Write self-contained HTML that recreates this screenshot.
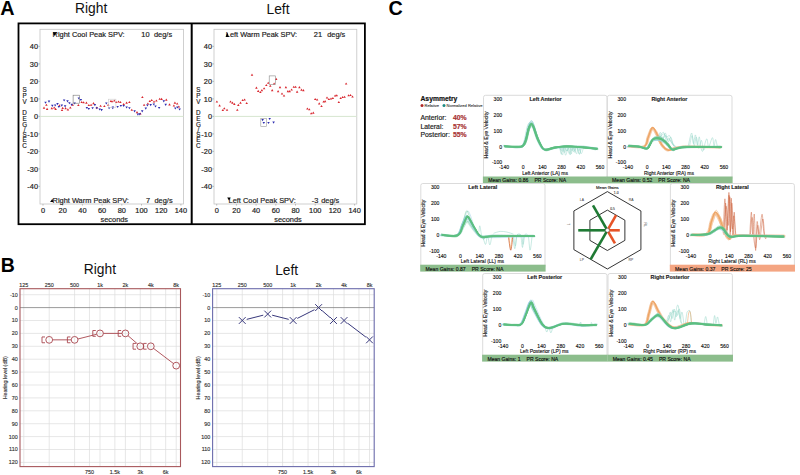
<!DOCTYPE html>
<html><head><meta charset="utf-8"><style>
html,body{margin:0;padding:0;background:#fff;width:800px;height:475px;overflow:hidden}
svg{display:block;font-family:"Liberation Sans", sans-serif}
</style></head><body>
<svg width="800" height="475" viewBox="0 0 800 475">
<rect width="800" height="475" fill="#fff"/>
<text x="0.30" y="14.60" font-size="19.8" text-anchor="start" font-weight="bold" fill="#000" stroke="#000" stroke-width="0" >A</text>
<text x="75.00" y="13.20" font-size="13.8" text-anchor="start" font-weight="normal" fill="#111" stroke="#111" stroke-width="0" >Right</text>
<text x="266.50" y="13.50" font-size="13.8" text-anchor="start" font-weight="normal" fill="#111" stroke="#111" stroke-width="0" >Left</text>
<rect x="18.50" y="23.40" width="346.40" height="200.80" fill="none" stroke="#000" stroke-width="1.8" />
<line x1="191.70" y1="23.40" x2="191.70" y2="224.20" stroke="#000" stroke-width="2" />
<rect x="40.00" y="29.30" width="143.50" height="174.70" fill="none" stroke="#c4c4c4" stroke-width="0.8" />
<line x1="40.00" y1="116.40" x2="183.50" y2="116.40" stroke="#d6e6cf" stroke-width="1.0" />
<line x1="38.40" y1="46.40" x2="40.00" y2="46.40" stroke="#999" stroke-width="0.6" />
<text x="38.00" y="49.05" font-size="7.4" text-anchor="end" font-weight="normal" fill="#222" stroke="#222" stroke-width="0.185" >40</text>
<line x1="38.40" y1="63.90" x2="40.00" y2="63.90" stroke="#999" stroke-width="0.6" />
<text x="38.00" y="66.55" font-size="7.4" text-anchor="end" font-weight="normal" fill="#222" stroke="#222" stroke-width="0.185" >30</text>
<line x1="38.40" y1="81.40" x2="40.00" y2="81.40" stroke="#999" stroke-width="0.6" />
<text x="38.00" y="84.05" font-size="7.4" text-anchor="end" font-weight="normal" fill="#222" stroke="#222" stroke-width="0.185" >20</text>
<line x1="38.40" y1="98.90" x2="40.00" y2="98.90" stroke="#999" stroke-width="0.6" />
<text x="38.00" y="101.55" font-size="7.4" text-anchor="end" font-weight="normal" fill="#222" stroke="#222" stroke-width="0.185" >10</text>
<line x1="38.40" y1="116.40" x2="40.00" y2="116.40" stroke="#999" stroke-width="0.6" />
<text x="38.00" y="119.05" font-size="7.4" text-anchor="end" font-weight="normal" fill="#222" stroke="#222" stroke-width="0.185" >0</text>
<line x1="38.40" y1="133.90" x2="40.00" y2="133.90" stroke="#999" stroke-width="0.6" />
<text x="38.00" y="136.55" font-size="7.4" text-anchor="end" font-weight="normal" fill="#222" stroke="#222" stroke-width="0.185" >-10</text>
<line x1="38.40" y1="151.40" x2="40.00" y2="151.40" stroke="#999" stroke-width="0.6" />
<text x="38.00" y="154.05" font-size="7.4" text-anchor="end" font-weight="normal" fill="#222" stroke="#222" stroke-width="0.185" >-20</text>
<line x1="38.40" y1="168.90" x2="40.00" y2="168.90" stroke="#999" stroke-width="0.6" />
<text x="38.00" y="171.55" font-size="7.4" text-anchor="end" font-weight="normal" fill="#222" stroke="#222" stroke-width="0.185" >-30</text>
<line x1="38.40" y1="186.40" x2="40.00" y2="186.40" stroke="#999" stroke-width="0.6" />
<text x="38.00" y="189.05" font-size="7.4" text-anchor="end" font-weight="normal" fill="#222" stroke="#222" stroke-width="0.185" >-40</text>
<line x1="43.00" y1="204.00" x2="43.00" y2="205.60" stroke="#999" stroke-width="0.6" />
<text x="43.00" y="213.00" font-size="7.4" text-anchor="middle" font-weight="normal" fill="#222" stroke="#222" stroke-width="0.185" >0</text>
<line x1="62.70" y1="204.00" x2="62.70" y2="205.60" stroke="#999" stroke-width="0.6" />
<text x="62.70" y="213.00" font-size="7.4" text-anchor="middle" font-weight="normal" fill="#222" stroke="#222" stroke-width="0.185" >20</text>
<line x1="82.40" y1="204.00" x2="82.40" y2="205.60" stroke="#999" stroke-width="0.6" />
<text x="82.40" y="213.00" font-size="7.4" text-anchor="middle" font-weight="normal" fill="#222" stroke="#222" stroke-width="0.185" >40</text>
<line x1="102.10" y1="204.00" x2="102.10" y2="205.60" stroke="#999" stroke-width="0.6" />
<text x="102.10" y="213.00" font-size="7.4" text-anchor="middle" font-weight="normal" fill="#222" stroke="#222" stroke-width="0.185" >60</text>
<line x1="121.80" y1="204.00" x2="121.80" y2="205.60" stroke="#999" stroke-width="0.6" />
<text x="121.80" y="213.00" font-size="7.4" text-anchor="middle" font-weight="normal" fill="#222" stroke="#222" stroke-width="0.185" >80</text>
<line x1="141.50" y1="204.00" x2="141.50" y2="205.60" stroke="#999" stroke-width="0.6" />
<text x="141.50" y="213.00" font-size="7.4" text-anchor="middle" font-weight="normal" fill="#222" stroke="#222" stroke-width="0.185" >100</text>
<line x1="161.20" y1="204.00" x2="161.20" y2="205.60" stroke="#999" stroke-width="0.6" />
<text x="161.20" y="213.00" font-size="7.4" text-anchor="middle" font-weight="normal" fill="#222" stroke="#222" stroke-width="0.185" >120</text>
<line x1="180.90" y1="204.00" x2="180.90" y2="205.60" stroke="#999" stroke-width="0.6" />
<text x="180.90" y="213.00" font-size="7.4" text-anchor="middle" font-weight="normal" fill="#222" stroke="#222" stroke-width="0.185" >140</text>
<text x="114.30" y="221.50" font-size="7.4" text-anchor="middle" font-weight="normal" fill="#222" stroke="#222" stroke-width="0.185" >seconds</text>
<text x="24.60" y="92.40" font-size="6.3" text-anchor="middle" font-weight="normal" fill="#1a1a1a" stroke="#1a1a1a" stroke-width="0.158" >S</text>
<text x="24.60" y="98.40" font-size="6.3" text-anchor="middle" font-weight="normal" fill="#1a1a1a" stroke="#1a1a1a" stroke-width="0.158" >P</text>
<text x="24.60" y="104.40" font-size="6.3" text-anchor="middle" font-weight="normal" fill="#1a1a1a" stroke="#1a1a1a" stroke-width="0.158" >V</text>
<text x="24.60" y="115.20" font-size="6.3" text-anchor="middle" font-weight="normal" fill="#1a1a1a" stroke="#1a1a1a" stroke-width="0.158" >D</text>
<text x="24.60" y="121.20" font-size="6.3" text-anchor="middle" font-weight="normal" fill="#1a1a1a" stroke="#1a1a1a" stroke-width="0.158" >E</text>
<text x="24.60" y="126.80" font-size="6.3" text-anchor="middle" font-weight="normal" fill="#1a1a1a" stroke="#1a1a1a" stroke-width="0.158" >G</text>
<text x="24.60" y="131.60" font-size="6.3" text-anchor="middle" font-weight="normal" fill="#1a1a1a" stroke="#1a1a1a" stroke-width="0.158" >/</text>
<text x="24.60" y="136.80" font-size="6.3" text-anchor="middle" font-weight="normal" fill="#1a1a1a" stroke="#1a1a1a" stroke-width="0.158" >S</text>
<text x="24.60" y="142.40" font-size="6.3" text-anchor="middle" font-weight="normal" fill="#1a1a1a" stroke="#1a1a1a" stroke-width="0.158" >E</text>
<text x="24.60" y="148.00" font-size="6.3" text-anchor="middle" font-weight="normal" fill="#1a1a1a" stroke="#1a1a1a" stroke-width="0.158" >C</text>
<rect x="214.00" y="29.30" width="142.80" height="174.70" fill="none" stroke="#c4c4c4" stroke-width="0.8" />
<line x1="214.00" y1="116.40" x2="356.80" y2="116.40" stroke="#d6e6cf" stroke-width="1.0" />
<line x1="212.40" y1="46.40" x2="214.00" y2="46.40" stroke="#999" stroke-width="0.6" />
<text x="212.00" y="49.05" font-size="7.4" text-anchor="end" font-weight="normal" fill="#222" stroke="#222" stroke-width="0.185" >40</text>
<line x1="212.40" y1="63.90" x2="214.00" y2="63.90" stroke="#999" stroke-width="0.6" />
<text x="212.00" y="66.55" font-size="7.4" text-anchor="end" font-weight="normal" fill="#222" stroke="#222" stroke-width="0.185" >30</text>
<line x1="212.40" y1="81.40" x2="214.00" y2="81.40" stroke="#999" stroke-width="0.6" />
<text x="212.00" y="84.05" font-size="7.4" text-anchor="end" font-weight="normal" fill="#222" stroke="#222" stroke-width="0.185" >20</text>
<line x1="212.40" y1="98.90" x2="214.00" y2="98.90" stroke="#999" stroke-width="0.6" />
<text x="212.00" y="101.55" font-size="7.4" text-anchor="end" font-weight="normal" fill="#222" stroke="#222" stroke-width="0.185" >10</text>
<line x1="212.40" y1="116.40" x2="214.00" y2="116.40" stroke="#999" stroke-width="0.6" />
<text x="212.00" y="119.05" font-size="7.4" text-anchor="end" font-weight="normal" fill="#222" stroke="#222" stroke-width="0.185" >0</text>
<line x1="212.40" y1="133.90" x2="214.00" y2="133.90" stroke="#999" stroke-width="0.6" />
<text x="212.00" y="136.55" font-size="7.4" text-anchor="end" font-weight="normal" fill="#222" stroke="#222" stroke-width="0.185" >-10</text>
<line x1="212.40" y1="151.40" x2="214.00" y2="151.40" stroke="#999" stroke-width="0.6" />
<text x="212.00" y="154.05" font-size="7.4" text-anchor="end" font-weight="normal" fill="#222" stroke="#222" stroke-width="0.185" >-20</text>
<line x1="212.40" y1="168.90" x2="214.00" y2="168.90" stroke="#999" stroke-width="0.6" />
<text x="212.00" y="171.55" font-size="7.4" text-anchor="end" font-weight="normal" fill="#222" stroke="#222" stroke-width="0.185" >-30</text>
<line x1="212.40" y1="186.40" x2="214.00" y2="186.40" stroke="#999" stroke-width="0.6" />
<text x="212.00" y="189.05" font-size="7.4" text-anchor="end" font-weight="normal" fill="#222" stroke="#222" stroke-width="0.185" >-40</text>
<line x1="216.70" y1="204.00" x2="216.70" y2="205.60" stroke="#999" stroke-width="0.6" />
<text x="216.70" y="213.00" font-size="7.4" text-anchor="middle" font-weight="normal" fill="#222" stroke="#222" stroke-width="0.185" >0</text>
<line x1="236.40" y1="204.00" x2="236.40" y2="205.60" stroke="#999" stroke-width="0.6" />
<text x="236.40" y="213.00" font-size="7.4" text-anchor="middle" font-weight="normal" fill="#222" stroke="#222" stroke-width="0.185" >20</text>
<line x1="256.10" y1="204.00" x2="256.10" y2="205.60" stroke="#999" stroke-width="0.6" />
<text x="256.10" y="213.00" font-size="7.4" text-anchor="middle" font-weight="normal" fill="#222" stroke="#222" stroke-width="0.185" >40</text>
<line x1="275.80" y1="204.00" x2="275.80" y2="205.60" stroke="#999" stroke-width="0.6" />
<text x="275.80" y="213.00" font-size="7.4" text-anchor="middle" font-weight="normal" fill="#222" stroke="#222" stroke-width="0.185" >60</text>
<line x1="295.50" y1="204.00" x2="295.50" y2="205.60" stroke="#999" stroke-width="0.6" />
<text x="295.50" y="213.00" font-size="7.4" text-anchor="middle" font-weight="normal" fill="#222" stroke="#222" stroke-width="0.185" >80</text>
<line x1="315.20" y1="204.00" x2="315.20" y2="205.60" stroke="#999" stroke-width="0.6" />
<text x="315.20" y="213.00" font-size="7.4" text-anchor="middle" font-weight="normal" fill="#222" stroke="#222" stroke-width="0.185" >100</text>
<line x1="334.90" y1="204.00" x2="334.90" y2="205.60" stroke="#999" stroke-width="0.6" />
<text x="334.90" y="213.00" font-size="7.4" text-anchor="middle" font-weight="normal" fill="#222" stroke="#222" stroke-width="0.185" >120</text>
<line x1="354.60" y1="204.00" x2="354.60" y2="205.60" stroke="#999" stroke-width="0.6" />
<text x="354.60" y="213.00" font-size="7.4" text-anchor="middle" font-weight="normal" fill="#222" stroke="#222" stroke-width="0.185" >140</text>
<text x="288.00" y="221.50" font-size="7.4" text-anchor="middle" font-weight="normal" fill="#222" stroke="#222" stroke-width="0.185" >seconds</text>
<text x="198.40" y="92.40" font-size="6.3" text-anchor="middle" font-weight="normal" fill="#1a1a1a" stroke="#1a1a1a" stroke-width="0.158" >S</text>
<text x="198.40" y="98.40" font-size="6.3" text-anchor="middle" font-weight="normal" fill="#1a1a1a" stroke="#1a1a1a" stroke-width="0.158" >P</text>
<text x="198.40" y="104.40" font-size="6.3" text-anchor="middle" font-weight="normal" fill="#1a1a1a" stroke="#1a1a1a" stroke-width="0.158" >V</text>
<text x="198.40" y="115.20" font-size="6.3" text-anchor="middle" font-weight="normal" fill="#1a1a1a" stroke="#1a1a1a" stroke-width="0.158" >D</text>
<text x="198.40" y="121.20" font-size="6.3" text-anchor="middle" font-weight="normal" fill="#1a1a1a" stroke="#1a1a1a" stroke-width="0.158" >E</text>
<text x="198.40" y="126.80" font-size="6.3" text-anchor="middle" font-weight="normal" fill="#1a1a1a" stroke="#1a1a1a" stroke-width="0.158" >G</text>
<text x="198.40" y="131.60" font-size="6.3" text-anchor="middle" font-weight="normal" fill="#1a1a1a" stroke="#1a1a1a" stroke-width="0.158" >/</text>
<text x="198.40" y="136.80" font-size="6.3" text-anchor="middle" font-weight="normal" fill="#1a1a1a" stroke="#1a1a1a" stroke-width="0.158" >S</text>
<text x="198.40" y="142.40" font-size="6.3" text-anchor="middle" font-weight="normal" fill="#1a1a1a" stroke="#1a1a1a" stroke-width="0.158" >E</text>
<text x="198.40" y="148.00" font-size="6.3" text-anchor="middle" font-weight="normal" fill="#1a1a1a" stroke="#1a1a1a" stroke-width="0.158" >C</text>
<text x="52.60" y="37.20" font-size="7.4" text-anchor="start" font-weight="normal" fill="#222" stroke="#222" stroke-width="0.185" >Right Cool Peak SPV:</text>
<text x="149.60" y="37.20" font-size="7.4" text-anchor="end" font-weight="normal" fill="#222" stroke="#222" stroke-width="0.185" >10</text>
<text x="154.00" y="37.20" font-size="7.4" text-anchor="start" font-weight="normal" fill="#222" stroke="#222" stroke-width="0.185" >deg/s</text>
<text x="52.60" y="202.70" font-size="7.4" text-anchor="start" font-weight="normal" fill="#222" stroke="#222" stroke-width="0.185" >Right Warm Peak SPV:</text>
<text x="150.00" y="202.70" font-size="7.4" text-anchor="end" font-weight="normal" fill="#222" stroke="#222" stroke-width="0.185" >7</text>
<text x="154.50" y="202.70" font-size="7.4" text-anchor="start" font-weight="normal" fill="#222" stroke="#222" stroke-width="0.185" >deg/s</text>
<text x="225.80" y="37.20" font-size="7.4" text-anchor="start" font-weight="normal" fill="#222" stroke="#222" stroke-width="0.185" >Left Warm Peak SPV:</text>
<text x="322.00" y="37.20" font-size="7.4" text-anchor="end" font-weight="normal" fill="#222" stroke="#222" stroke-width="0.185" >21</text>
<text x="327.20" y="37.20" font-size="7.4" text-anchor="start" font-weight="normal" fill="#222" stroke="#222" stroke-width="0.185" >deg/s</text>
<text x="228.60" y="202.70" font-size="7.4" text-anchor="start" font-weight="normal" fill="#222" stroke="#222" stroke-width="0.185" >Left Cool Peak SPV:</text>
<text x="318.40" y="202.70" font-size="7.4" text-anchor="end" font-weight="normal" fill="#222" stroke="#222" stroke-width="0.185" >-3</text>
<text x="321.20" y="202.70" font-size="7.4" text-anchor="start" font-weight="normal" fill="#222" stroke="#222" stroke-width="0.185" >deg/s</text>
<path d="M52.9,32.2L57.0,32.2L54.2,36.0Z" fill="#000"/>
<path d="M225.6,36.9L229.0,36.9L227.4,32.4Z" fill="#000"/>
<path d="M50.1,201.9L53.3,201.9L52.4,198.7Z" fill="#000"/>
<path d="M227.2,197.6L230.7,197.6L229.0,200.6Z" fill="#000"/>
<path d="M42.75,108.70L45.25,108.70L44.00,106.58Z" fill="#d8262e"/>
<path d="M45.85,109.90L48.35,109.90L47.10,107.78Z" fill="#d8262e"/>
<path d="M45.15,105.80L47.65,105.80L46.40,103.67Z" fill="#d8262e"/>
<path d="M50.55,109.20L53.05,109.20L51.80,107.08Z" fill="#d8262e"/>
<path d="M52.95,108.50L55.45,108.50L54.20,106.38Z" fill="#d8262e"/>
<path d="M54.35,109.90L56.85,109.90L55.60,107.78Z" fill="#d8262e"/>
<path d="M58.15,106.40L60.65,106.40L59.40,104.28Z" fill="#d8262e"/>
<path d="M60.75,111.10L63.25,111.10L62.00,108.97Z" fill="#d8262e"/>
<path d="M61.45,108.90L63.95,108.90L62.70,106.78Z" fill="#d8262e"/>
<path d="M64.35,109.20L66.85,109.20L65.60,107.08Z" fill="#d8262e"/>
<path d="M66.65,110.40L69.15,110.40L67.90,108.28Z" fill="#d8262e"/>
<path d="M69.05,108.50L71.55,108.50L70.30,106.38Z" fill="#d8262e"/>
<path d="M71.45,105.80L73.95,105.80L72.70,103.67Z" fill="#d8262e"/>
<path d="M77.15,106.10L79.65,106.10L78.40,103.97Z" fill="#d8262e"/>
<path d="M80.45,103.00L82.95,103.00L81.70,100.88Z" fill="#d8262e"/>
<path d="M82.35,103.30L84.85,103.30L83.60,101.17Z" fill="#d8262e"/>
<path d="M85.15,103.70L87.65,103.70L86.40,101.58Z" fill="#d8262e"/>
<path d="M87.55,106.10L90.05,106.10L88.80,103.97Z" fill="#d8262e"/>
<path d="M89.85,105.80L92.35,105.80L91.10,103.67Z" fill="#d8262e"/>
<path d="M92.25,104.20L94.75,104.20L93.50,102.08Z" fill="#d8262e"/>
<path d="M95.55,108.50L98.05,108.50L96.80,106.38Z" fill="#d8262e"/>
<path d="M99.35,106.80L101.85,106.80L100.60,104.67Z" fill="#d8262e"/>
<path d="M103.15,107.00L105.65,107.00L104.40,104.88Z" fill="#d8262e"/>
<path d="M106.95,105.80L109.45,105.80L108.20,103.67Z" fill="#d8262e"/>
<path d="M110.75,102.30L113.25,102.30L112.00,100.17Z" fill="#d8262e"/>
<path d="M109.65,102.00L112.15,102.00L110.90,99.88Z" fill="#d8262e"/>
<path d="M113.05,101.60L115.55,101.60L114.30,99.47Z" fill="#d8262e"/>
<path d="M114.95,103.00L117.45,103.00L116.20,100.88Z" fill="#d8262e"/>
<path d="M117.25,102.60L119.75,102.60L118.50,100.47Z" fill="#d8262e"/>
<path d="M119.15,103.00L121.65,103.00L120.40,100.88Z" fill="#d8262e"/>
<path d="M122.45,105.10L124.95,105.10L123.70,102.97Z" fill="#d8262e"/>
<path d="M125.35,103.70L127.85,103.70L126.60,101.58Z" fill="#d8262e"/>
<path d="M128.15,103.00L130.65,103.00L129.40,100.88Z" fill="#d8262e"/>
<path d="M130.55,110.80L133.05,110.80L131.80,108.67Z" fill="#d8262e"/>
<path d="M135.75,113.20L138.25,113.20L137.00,111.08Z" fill="#d8262e"/>
<path d="M139.05,114.60L141.55,114.60L140.30,112.47Z" fill="#d8262e"/>
<path d="M141.15,98.00L143.65,98.00L142.40,95.88Z" fill="#d8262e"/>
<path d="M142.85,105.80L145.35,105.80L144.10,103.67Z" fill="#d8262e"/>
<path d="M146.65,104.50L149.15,104.50L147.90,102.38Z" fill="#d8262e"/>
<path d="M148.55,102.00L151.05,102.00L149.80,99.88Z" fill="#d8262e"/>
<path d="M150.45,101.10L152.95,101.10L151.70,98.97Z" fill="#d8262e"/>
<path d="M152.75,102.60L155.25,102.60L154.00,100.47Z" fill="#d8262e"/>
<path d="M155.15,101.60L157.65,101.60L156.40,99.47Z" fill="#d8262e"/>
<path d="M158.45,99.80L160.95,99.80L159.70,97.67Z" fill="#d8262e"/>
<path d="M160.35,99.90L162.85,99.90L161.60,97.78Z" fill="#d8262e"/>
<path d="M165.05,100.70L167.55,100.70L166.30,98.58Z" fill="#d8262e"/>
<path d="M168.25,105.40L170.75,105.40L169.50,103.28Z" fill="#d8262e"/>
<path d="M172.65,106.60L175.15,106.60L173.90,104.47Z" fill="#d8262e"/>
<path d="M173.65,103.70L176.15,103.70L174.90,101.58Z" fill="#d8262e"/>
<path d="M175.95,104.50L178.45,104.50L177.20,102.38Z" fill="#d8262e"/>
<path d="M177.65,107.50L180.15,107.50L178.90,105.38Z" fill="#d8262e"/>
<path d="M215.65,102.50L218.15,102.50L216.90,100.38Z" fill="#d8262e"/>
<path d="M218.35,106.40L220.85,106.40L219.60,104.28Z" fill="#d8262e"/>
<path d="M221.55,111.10L224.05,111.10L222.80,108.97Z" fill="#d8262e"/>
<path d="M223.05,109.30L225.55,109.30L224.30,107.17Z" fill="#d8262e"/>
<path d="M225.75,110.80L228.25,110.80L227.00,108.67Z" fill="#d8262e"/>
<path d="M229.25,102.50L231.75,102.50L230.50,100.38Z" fill="#d8262e"/>
<path d="M231.15,103.70L233.65,103.70L232.40,101.58Z" fill="#d8262e"/>
<path d="M233.05,104.90L235.55,104.90L234.30,102.78Z" fill="#d8262e"/>
<path d="M236.05,110.80L238.55,110.80L237.30,108.67Z" fill="#d8262e"/>
<path d="M237.05,105.90L239.55,105.90L238.30,103.78Z" fill="#d8262e"/>
<path d="M239.25,103.70L241.75,103.70L240.50,101.58Z" fill="#d8262e"/>
<path d="M241.45,101.10L243.95,101.10L242.70,98.97Z" fill="#d8262e"/>
<path d="M243.35,100.50L245.85,100.50L244.60,98.38Z" fill="#d8262e"/>
<path d="M245.45,104.00L247.95,104.00L246.70,101.88Z" fill="#d8262e"/>
<path d="M250.75,75.70L253.25,75.70L252.00,73.58Z" fill="#d8262e"/>
<path d="M255.15,88.70L257.65,88.70L256.40,86.58Z" fill="#d8262e"/>
<path d="M256.95,91.90L259.45,91.90L258.20,89.78Z" fill="#d8262e"/>
<path d="M259.15,93.10L261.65,93.10L260.40,90.97Z" fill="#d8262e"/>
<path d="M260.65,91.20L263.15,91.20L261.90,89.08Z" fill="#d8262e"/>
<path d="M262.85,89.30L265.35,89.30L264.10,87.17Z" fill="#d8262e"/>
<path d="M265.05,86.00L267.55,86.00L266.30,83.88Z" fill="#d8262e"/>
<path d="M266.95,83.80L269.45,83.80L268.20,81.67Z" fill="#d8262e"/>
<path d="M269.05,86.80L271.55,86.80L270.30,84.67Z" fill="#d8262e"/>
<path d="M270.95,91.20L273.45,91.20L272.20,89.08Z" fill="#d8262e"/>
<path d="M272.85,84.60L275.35,84.60L274.10,82.47Z" fill="#d8262e"/>
<path d="M274.95,79.90L277.45,79.90L276.20,77.78Z" fill="#d8262e"/>
<path d="M276.85,92.20L279.35,92.20L278.10,90.08Z" fill="#d8262e"/>
<path d="M278.75,88.20L281.25,88.20L280.00,86.08Z" fill="#d8262e"/>
<path d="M280.75,94.60L283.25,94.60L282.00,92.47Z" fill="#d8262e"/>
<path d="M282.75,96.60L285.25,96.60L284.00,94.47Z" fill="#d8262e"/>
<path d="M284.65,88.20L287.15,88.20L285.90,86.08Z" fill="#d8262e"/>
<path d="M286.65,92.20L289.15,92.20L287.90,90.08Z" fill="#d8262e"/>
<path d="M288.45,92.20L290.95,92.20L289.70,90.08Z" fill="#d8262e"/>
<path d="M290.35,90.50L292.85,90.50L291.60,88.38Z" fill="#d8262e"/>
<path d="M292.55,87.80L295.05,87.80L293.80,85.67Z" fill="#d8262e"/>
<path d="M294.35,87.80L296.85,87.80L295.60,85.67Z" fill="#d8262e"/>
<path d="M295.85,92.70L298.35,92.70L297.10,90.58Z" fill="#d8262e"/>
<path d="M298.15,88.20L300.65,88.20L299.40,86.08Z" fill="#d8262e"/>
<path d="M300.25,90.70L302.75,90.70L301.50,88.58Z" fill="#d8262e"/>
<path d="M302.15,91.20L304.65,91.20L303.40,89.08Z" fill="#d8262e"/>
<path d="M306.15,109.60L308.65,109.60L307.40,107.47Z" fill="#d8262e"/>
<path d="M308.05,110.30L310.55,110.30L309.30,108.17Z" fill="#d8262e"/>
<path d="M309.95,114.30L312.45,114.30L311.20,112.17Z" fill="#d8262e"/>
<path d="M312.05,113.70L314.55,113.70L313.30,111.58Z" fill="#d8262e"/>
<path d="M313.95,100.00L316.45,100.00L315.20,97.88Z" fill="#d8262e"/>
<path d="M315.85,100.50L318.35,100.50L317.10,98.38Z" fill="#d8262e"/>
<path d="M317.95,104.40L320.45,104.40L319.20,102.28Z" fill="#d8262e"/>
<path d="M320.25,107.00L322.75,107.00L321.50,104.88Z" fill="#d8262e"/>
<path d="M322.35,102.50L324.85,102.50L323.60,100.38Z" fill="#d8262e"/>
<path d="M323.85,102.20L326.35,102.20L325.10,100.08Z" fill="#d8262e"/>
<path d="M325.75,98.60L328.25,98.60L327.00,96.47Z" fill="#d8262e"/>
<path d="M327.65,100.00L330.15,100.00L328.90,97.88Z" fill="#d8262e"/>
<path d="M329.75,99.60L332.25,99.60L331.00,97.47Z" fill="#d8262e"/>
<path d="M331.65,99.00L334.15,99.00L332.90,96.88Z" fill="#d8262e"/>
<path d="M333.85,96.60L336.35,96.60L335.10,94.47Z" fill="#d8262e"/>
<path d="M335.55,96.30L338.05,96.30L336.80,94.17Z" fill="#d8262e"/>
<path d="M337.55,103.00L340.05,103.00L338.80,100.88Z" fill="#d8262e"/>
<path d="M339.45,99.00L341.95,99.00L340.70,96.88Z" fill="#d8262e"/>
<path d="M341.45,98.10L343.95,98.10L342.70,95.97Z" fill="#d8262e"/>
<path d="M343.35,97.80L345.85,97.80L344.60,95.67Z" fill="#d8262e"/>
<path d="M344.85,84.60L347.35,84.60L346.10,82.47Z" fill="#d8262e"/>
<path d="M347.35,96.30L349.85,96.30L348.60,94.17Z" fill="#d8262e"/>
<path d="M349.25,96.10L351.75,96.10L350.50,93.97Z" fill="#d8262e"/>
<path d="M351.25,97.50L353.75,97.50L352.50,95.38Z" fill="#d8262e"/>
<path d="M44.25,101.70L46.75,101.70L45.50,103.83Z" fill="#2c2cb0"/>
<path d="M47.75,100.60L50.25,100.60L49.00,102.72Z" fill="#2c2cb0"/>
<path d="M51.05,104.80L53.55,104.80L52.30,106.92Z" fill="#2c2cb0"/>
<path d="M53.95,104.40L56.45,104.40L55.20,106.53Z" fill="#2c2cb0"/>
<path d="M56.25,103.10L58.75,103.10L57.50,105.22Z" fill="#2c2cb0"/>
<path d="M57.65,106.00L60.15,106.00L58.90,108.12Z" fill="#2c2cb0"/>
<path d="M60.55,104.60L63.05,104.60L61.80,106.72Z" fill="#2c2cb0"/>
<path d="M62.85,99.40L65.35,99.40L64.10,101.53Z" fill="#2c2cb0"/>
<path d="M63.85,105.30L66.35,105.30L65.10,107.42Z" fill="#2c2cb0"/>
<path d="M66.25,100.30L68.75,100.30L67.50,102.42Z" fill="#2c2cb0"/>
<path d="M68.15,102.20L70.65,102.20L69.40,104.33Z" fill="#2c2cb0"/>
<path d="M70.45,103.80L72.95,103.80L71.70,105.92Z" fill="#2c2cb0"/>
<path d="M73.35,102.50L75.85,102.50L74.60,104.62Z" fill="#2c2cb0"/>
<path d="M77.55,97.50L80.05,97.50L78.80,99.62Z" fill="#2c2cb0"/>
<path d="M79.65,98.90L82.15,98.90L80.90,101.03Z" fill="#2c2cb0"/>
<path d="M85.65,106.90L88.15,106.90L86.90,109.03Z" fill="#2c2cb0"/>
<path d="M87.55,107.90L90.05,107.90L88.80,110.03Z" fill="#2c2cb0"/>
<path d="M91.35,107.20L93.85,107.20L92.60,109.33Z" fill="#2c2cb0"/>
<path d="M93.65,104.10L96.15,104.10L94.90,106.22Z" fill="#2c2cb0"/>
<path d="M95.55,107.20L98.05,107.20L96.80,109.33Z" fill="#2c2cb0"/>
<path d="M98.45,108.40L100.95,108.40L99.70,110.53Z" fill="#2c2cb0"/>
<path d="M100.35,109.10L102.85,109.10L101.60,111.22Z" fill="#2c2cb0"/>
<path d="M105.05,102.50L107.55,102.50L106.30,104.62Z" fill="#2c2cb0"/>
<path d="M107.85,107.20L110.35,107.20L109.10,109.33Z" fill="#2c2cb0"/>
<path d="M111.65,106.50L114.15,106.50L112.90,108.62Z" fill="#2c2cb0"/>
<path d="M111.55,107.20L114.05,107.20L112.80,109.33Z" fill="#2c2cb0"/>
<path d="M116.35,106.00L118.85,106.00L117.60,108.12Z" fill="#2c2cb0"/>
<path d="M119.65,105.00L122.15,105.00L120.90,107.12Z" fill="#2c2cb0"/>
<path d="M122.45,105.00L124.95,105.00L123.70,107.12Z" fill="#2c2cb0"/>
<path d="M125.35,106.50L127.85,106.50L126.60,108.62Z" fill="#2c2cb0"/>
<path d="M128.15,107.20L130.65,107.20L129.40,109.33Z" fill="#2c2cb0"/>
<path d="M133.35,110.30L135.85,110.30L134.60,112.42Z" fill="#2c2cb0"/>
<path d="M136.65,113.60L139.15,113.60L137.90,115.72Z" fill="#2c2cb0"/>
<path d="M138.55,113.30L141.05,113.30L139.80,115.42Z" fill="#2c2cb0"/>
<path d="M140.95,110.30L143.45,110.30L142.20,112.42Z" fill="#2c2cb0"/>
<path d="M144.55,107.60L147.05,107.60L145.80,109.72Z" fill="#2c2cb0"/>
<path d="M146.15,104.40L148.65,104.40L147.40,106.53Z" fill="#2c2cb0"/>
<path d="M149.45,104.10L151.95,104.10L150.70,106.22Z" fill="#2c2cb0"/>
<path d="M152.55,103.40L155.05,103.40L153.80,105.53Z" fill="#2c2cb0"/>
<path d="M154.25,105.50L156.75,105.50L155.50,107.62Z" fill="#2c2cb0"/>
<path d="M157.85,106.90L160.35,106.90L159.10,109.03Z" fill="#2c2cb0"/>
<path d="M162.55,100.30L165.05,100.30L163.80,102.42Z" fill="#2c2cb0"/>
<path d="M164.45,103.80L166.95,103.80L165.70,105.92Z" fill="#2c2cb0"/>
<path d="M174.05,107.40L176.55,107.40L175.30,109.53Z" fill="#2c2cb0"/>
<path d="M176.15,106.50L178.65,106.50L177.40,108.62Z" fill="#2c2cb0"/>
<path d="M178.35,108.40L180.85,108.40L179.60,110.53Z" fill="#2c2cb0"/>
<path d="M261.35,119.10L263.85,119.10L262.60,121.22Z" fill="#2c2cb0"/>
<path d="M262.55,122.00L265.05,122.00L263.80,124.12Z" fill="#2c2cb0"/>
<path d="M267.25,122.00L269.75,122.00L268.50,124.12Z" fill="#2c2cb0"/>
<path d="M268.45,117.90L270.95,117.90L269.70,120.03Z" fill="#2c2cb0"/>
<path d="M272.35,121.60L274.85,121.60L273.60,123.72Z" fill="#2c2cb0"/>
<rect x="73.10" y="95.20" width="6.50" height="8.00" fill="none" stroke="#777" stroke-width="0.6" />
<rect x="108.40" y="99.20" width="7.50" height="8.20" fill="none" stroke="#ccc" stroke-width="0.6" />
<rect x="269.20" y="75.90" width="6.40" height="8.40" fill="none" stroke="#888" stroke-width="0.6" />
<rect x="260.80" y="118.60" width="5.50" height="8.00" fill="none" stroke="#999" stroke-width="0.6" />
<text x="0.80" y="271.70" font-size="19.5" text-anchor="start" font-weight="bold" fill="#000" stroke="#000" stroke-width="0" >B</text>
<text x="83.80" y="274.00" font-size="13.8" text-anchor="start" font-weight="normal" fill="#111" stroke="#111" stroke-width="0" >Right</text>
<text x="275.20" y="274.50" font-size="13.8" text-anchor="start" font-weight="normal" fill="#111" stroke="#111" stroke-width="0" >Left</text>
<line x1="23.80" y1="288.70" x2="23.80" y2="466.60" stroke="#dcdcdc" stroke-width="0.7" />
<line x1="49.20" y1="288.70" x2="49.20" y2="466.60" stroke="#dcdcdc" stroke-width="0.7" />
<line x1="74.60" y1="288.70" x2="74.60" y2="466.60" stroke="#dcdcdc" stroke-width="0.7" />
<line x1="100.00" y1="288.70" x2="100.00" y2="466.60" stroke="#dcdcdc" stroke-width="0.7" />
<line x1="125.40" y1="288.70" x2="125.40" y2="466.60" stroke="#dcdcdc" stroke-width="0.7" />
<line x1="150.80" y1="288.70" x2="150.80" y2="466.60" stroke="#dcdcdc" stroke-width="0.7" />
<line x1="176.20" y1="288.70" x2="176.20" y2="466.60" stroke="#dcdcdc" stroke-width="0.7" />
<line x1="89.46" y1="288.70" x2="89.46" y2="466.60" stroke="#dcdcdc" stroke-width="0.7" />
<line x1="114.86" y1="288.70" x2="114.86" y2="466.60" stroke="#dcdcdc" stroke-width="0.7" />
<line x1="140.26" y1="288.70" x2="140.26" y2="466.60" stroke="#dcdcdc" stroke-width="0.7" />
<line x1="165.66" y1="288.70" x2="165.66" y2="466.60" stroke="#dcdcdc" stroke-width="0.7" />
<line x1="20.00" y1="294.70" x2="180.50" y2="294.70" stroke="#dcdcdc" stroke-width="0.7" />
<text x="17.70" y="296.65" font-size="5.4" text-anchor="end" font-weight="normal" fill="#333" stroke="#333" stroke-width="0.135" >-10</text>
<line x1="20.00" y1="307.60" x2="180.50" y2="307.60" stroke="#808080" stroke-width="0.8" />
<text x="17.70" y="309.55" font-size="5.4" text-anchor="end" font-weight="normal" fill="#333" stroke="#333" stroke-width="0.135" >0</text>
<line x1="20.00" y1="320.50" x2="180.50" y2="320.50" stroke="#dcdcdc" stroke-width="0.7" />
<text x="17.70" y="322.45" font-size="5.4" text-anchor="end" font-weight="normal" fill="#333" stroke="#333" stroke-width="0.135" >10</text>
<line x1="20.00" y1="333.40" x2="180.50" y2="333.40" stroke="#dcdcdc" stroke-width="0.7" />
<text x="17.70" y="335.35" font-size="5.4" text-anchor="end" font-weight="normal" fill="#333" stroke="#333" stroke-width="0.135" >20</text>
<line x1="20.00" y1="346.30" x2="180.50" y2="346.30" stroke="#dcdcdc" stroke-width="0.7" />
<text x="17.70" y="348.25" font-size="5.4" text-anchor="end" font-weight="normal" fill="#333" stroke="#333" stroke-width="0.135" >30</text>
<line x1="20.00" y1="359.20" x2="180.50" y2="359.20" stroke="#dcdcdc" stroke-width="0.7" />
<text x="17.70" y="361.15" font-size="5.4" text-anchor="end" font-weight="normal" fill="#333" stroke="#333" stroke-width="0.135" >40</text>
<line x1="20.00" y1="372.10" x2="180.50" y2="372.10" stroke="#dcdcdc" stroke-width="0.7" />
<text x="17.70" y="374.05" font-size="5.4" text-anchor="end" font-weight="normal" fill="#333" stroke="#333" stroke-width="0.135" >50</text>
<line x1="20.00" y1="385.00" x2="180.50" y2="385.00" stroke="#dcdcdc" stroke-width="0.7" />
<text x="17.70" y="386.95" font-size="5.4" text-anchor="end" font-weight="normal" fill="#333" stroke="#333" stroke-width="0.135" >60</text>
<line x1="20.00" y1="397.90" x2="180.50" y2="397.90" stroke="#dcdcdc" stroke-width="0.7" />
<text x="17.70" y="399.85" font-size="5.4" text-anchor="end" font-weight="normal" fill="#333" stroke="#333" stroke-width="0.135" >70</text>
<line x1="20.00" y1="410.80" x2="180.50" y2="410.80" stroke="#dcdcdc" stroke-width="0.7" />
<text x="17.70" y="412.75" font-size="5.4" text-anchor="end" font-weight="normal" fill="#333" stroke="#333" stroke-width="0.135" >80</text>
<line x1="20.00" y1="423.70" x2="180.50" y2="423.70" stroke="#dcdcdc" stroke-width="0.7" />
<text x="17.70" y="425.65" font-size="5.4" text-anchor="end" font-weight="normal" fill="#333" stroke="#333" stroke-width="0.135" >90</text>
<line x1="20.00" y1="436.60" x2="180.50" y2="436.60" stroke="#dcdcdc" stroke-width="0.7" />
<text x="17.70" y="438.55" font-size="5.4" text-anchor="end" font-weight="normal" fill="#333" stroke="#333" stroke-width="0.135" >100</text>
<line x1="20.00" y1="449.50" x2="180.50" y2="449.50" stroke="#dcdcdc" stroke-width="0.7" />
<text x="17.70" y="451.45" font-size="5.4" text-anchor="end" font-weight="normal" fill="#333" stroke="#333" stroke-width="0.135" >110</text>
<line x1="20.00" y1="462.40" x2="180.50" y2="462.40" stroke="#dcdcdc" stroke-width="0.7" />
<text x="17.70" y="464.35" font-size="5.4" text-anchor="end" font-weight="normal" fill="#333" stroke="#333" stroke-width="0.135" >120</text>
<rect x="20.00" y="288.70" width="160.50" height="177.90" fill="none" stroke="#a8585c" stroke-width="1.1" />
<text x="23.80" y="286.60" font-size="5.4" text-anchor="middle" font-weight="normal" fill="#333" stroke="#333" stroke-width="0.135" >125</text>
<text x="49.20" y="286.60" font-size="5.4" text-anchor="middle" font-weight="normal" fill="#333" stroke="#333" stroke-width="0.135" >250</text>
<text x="74.60" y="286.60" font-size="5.4" text-anchor="middle" font-weight="normal" fill="#333" stroke="#333" stroke-width="0.135" >500</text>
<text x="100.00" y="286.60" font-size="5.4" text-anchor="middle" font-weight="normal" fill="#333" stroke="#333" stroke-width="0.135" >1k</text>
<text x="125.40" y="286.60" font-size="5.4" text-anchor="middle" font-weight="normal" fill="#333" stroke="#333" stroke-width="0.135" >2k</text>
<text x="150.80" y="286.60" font-size="5.4" text-anchor="middle" font-weight="normal" fill="#333" stroke="#333" stroke-width="0.135" >4k</text>
<text x="176.20" y="286.60" font-size="5.4" text-anchor="middle" font-weight="normal" fill="#333" stroke="#333" stroke-width="0.135" >8k</text>
<text x="89.46" y="473.50" font-size="5.4" text-anchor="middle" font-weight="normal" fill="#333" stroke="#333" stroke-width="0.135" >750</text>
<text x="114.86" y="473.50" font-size="5.4" text-anchor="middle" font-weight="normal" fill="#333" stroke="#333" stroke-width="0.135" >1.5k</text>
<text x="140.26" y="473.50" font-size="5.4" text-anchor="middle" font-weight="normal" fill="#333" stroke="#333" stroke-width="0.135" >3k</text>
<text x="165.66" y="473.50" font-size="5.4" text-anchor="middle" font-weight="normal" fill="#333" stroke="#333" stroke-width="0.135" >6k</text>
<text x="7.1" y="377.8" font-size="5.4" text-anchor="middle" fill="#333" stroke="#333" stroke-width="0.13" transform="rotate(-90 7.1 377.8)">Hearing level (dB)</text>
<line x1="216.80" y1="288.70" x2="216.80" y2="466.60" stroke="#dcdcdc" stroke-width="0.7" />
<line x1="242.25" y1="288.70" x2="242.25" y2="466.60" stroke="#dcdcdc" stroke-width="0.7" />
<line x1="267.70" y1="288.70" x2="267.70" y2="466.60" stroke="#dcdcdc" stroke-width="0.7" />
<line x1="293.15" y1="288.70" x2="293.15" y2="466.60" stroke="#dcdcdc" stroke-width="0.7" />
<line x1="318.60" y1="288.70" x2="318.60" y2="466.60" stroke="#dcdcdc" stroke-width="0.7" />
<line x1="344.05" y1="288.70" x2="344.05" y2="466.60" stroke="#dcdcdc" stroke-width="0.7" />
<line x1="369.50" y1="288.70" x2="369.50" y2="466.60" stroke="#dcdcdc" stroke-width="0.7" />
<line x1="282.59" y1="288.70" x2="282.59" y2="466.60" stroke="#dcdcdc" stroke-width="0.7" />
<line x1="308.04" y1="288.70" x2="308.04" y2="466.60" stroke="#dcdcdc" stroke-width="0.7" />
<line x1="333.49" y1="288.70" x2="333.49" y2="466.60" stroke="#dcdcdc" stroke-width="0.7" />
<line x1="358.94" y1="288.70" x2="358.94" y2="466.60" stroke="#dcdcdc" stroke-width="0.7" />
<line x1="212.60" y1="294.70" x2="374.20" y2="294.70" stroke="#dcdcdc" stroke-width="0.7" />
<text x="210.30" y="296.65" font-size="5.4" text-anchor="end" font-weight="normal" fill="#333" stroke="#333" stroke-width="0.135" >-10</text>
<line x1="212.60" y1="307.60" x2="374.20" y2="307.60" stroke="#808080" stroke-width="0.8" />
<text x="210.30" y="309.55" font-size="5.4" text-anchor="end" font-weight="normal" fill="#333" stroke="#333" stroke-width="0.135" >0</text>
<line x1="212.60" y1="320.50" x2="374.20" y2="320.50" stroke="#dcdcdc" stroke-width="0.7" />
<text x="210.30" y="322.45" font-size="5.4" text-anchor="end" font-weight="normal" fill="#333" stroke="#333" stroke-width="0.135" >10</text>
<line x1="212.60" y1="333.40" x2="374.20" y2="333.40" stroke="#dcdcdc" stroke-width="0.7" />
<text x="210.30" y="335.35" font-size="5.4" text-anchor="end" font-weight="normal" fill="#333" stroke="#333" stroke-width="0.135" >20</text>
<line x1="212.60" y1="346.30" x2="374.20" y2="346.30" stroke="#dcdcdc" stroke-width="0.7" />
<text x="210.30" y="348.25" font-size="5.4" text-anchor="end" font-weight="normal" fill="#333" stroke="#333" stroke-width="0.135" >30</text>
<line x1="212.60" y1="359.20" x2="374.20" y2="359.20" stroke="#dcdcdc" stroke-width="0.7" />
<text x="210.30" y="361.15" font-size="5.4" text-anchor="end" font-weight="normal" fill="#333" stroke="#333" stroke-width="0.135" >40</text>
<line x1="212.60" y1="372.10" x2="374.20" y2="372.10" stroke="#dcdcdc" stroke-width="0.7" />
<text x="210.30" y="374.05" font-size="5.4" text-anchor="end" font-weight="normal" fill="#333" stroke="#333" stroke-width="0.135" >50</text>
<line x1="212.60" y1="385.00" x2="374.20" y2="385.00" stroke="#dcdcdc" stroke-width="0.7" />
<text x="210.30" y="386.95" font-size="5.4" text-anchor="end" font-weight="normal" fill="#333" stroke="#333" stroke-width="0.135" >60</text>
<line x1="212.60" y1="397.90" x2="374.20" y2="397.90" stroke="#dcdcdc" stroke-width="0.7" />
<text x="210.30" y="399.85" font-size="5.4" text-anchor="end" font-weight="normal" fill="#333" stroke="#333" stroke-width="0.135" >70</text>
<line x1="212.60" y1="410.80" x2="374.20" y2="410.80" stroke="#dcdcdc" stroke-width="0.7" />
<text x="210.30" y="412.75" font-size="5.4" text-anchor="end" font-weight="normal" fill="#333" stroke="#333" stroke-width="0.135" >80</text>
<line x1="212.60" y1="423.70" x2="374.20" y2="423.70" stroke="#dcdcdc" stroke-width="0.7" />
<text x="210.30" y="425.65" font-size="5.4" text-anchor="end" font-weight="normal" fill="#333" stroke="#333" stroke-width="0.135" >90</text>
<line x1="212.60" y1="436.60" x2="374.20" y2="436.60" stroke="#dcdcdc" stroke-width="0.7" />
<text x="210.30" y="438.55" font-size="5.4" text-anchor="end" font-weight="normal" fill="#333" stroke="#333" stroke-width="0.135" >100</text>
<line x1="212.60" y1="449.50" x2="374.20" y2="449.50" stroke="#dcdcdc" stroke-width="0.7" />
<text x="210.30" y="451.45" font-size="5.4" text-anchor="end" font-weight="normal" fill="#333" stroke="#333" stroke-width="0.135" >110</text>
<line x1="212.60" y1="462.40" x2="374.20" y2="462.40" stroke="#dcdcdc" stroke-width="0.7" />
<text x="210.30" y="464.35" font-size="5.4" text-anchor="end" font-weight="normal" fill="#333" stroke="#333" stroke-width="0.135" >120</text>
<rect x="212.60" y="288.70" width="161.60" height="177.90" fill="none" stroke="#6c6cac" stroke-width="1.1" />
<text x="216.80" y="286.60" font-size="5.4" text-anchor="middle" font-weight="normal" fill="#333" stroke="#333" stroke-width="0.135" >125</text>
<text x="242.25" y="286.60" font-size="5.4" text-anchor="middle" font-weight="normal" fill="#333" stroke="#333" stroke-width="0.135" >250</text>
<text x="267.70" y="286.60" font-size="5.4" text-anchor="middle" font-weight="normal" fill="#333" stroke="#333" stroke-width="0.135" >500</text>
<text x="293.15" y="286.60" font-size="5.4" text-anchor="middle" font-weight="normal" fill="#333" stroke="#333" stroke-width="0.135" >1k</text>
<text x="318.60" y="286.60" font-size="5.4" text-anchor="middle" font-weight="normal" fill="#333" stroke="#333" stroke-width="0.135" >2k</text>
<text x="344.05" y="286.60" font-size="5.4" text-anchor="middle" font-weight="normal" fill="#333" stroke="#333" stroke-width="0.135" >4k</text>
<text x="369.50" y="286.60" font-size="5.4" text-anchor="middle" font-weight="normal" fill="#333" stroke="#333" stroke-width="0.135" >8k</text>
<text x="282.59" y="473.50" font-size="5.4" text-anchor="middle" font-weight="normal" fill="#333" stroke="#333" stroke-width="0.135" >750</text>
<text x="308.04" y="473.50" font-size="5.4" text-anchor="middle" font-weight="normal" fill="#333" stroke="#333" stroke-width="0.135" >1.5k</text>
<text x="333.49" y="473.50" font-size="5.4" text-anchor="middle" font-weight="normal" fill="#333" stroke="#333" stroke-width="0.135" >3k</text>
<text x="358.94" y="473.50" font-size="5.4" text-anchor="middle" font-weight="normal" fill="#333" stroke="#333" stroke-width="0.135" >6k</text>
<text x="199.8" y="377.8" font-size="5.4" text-anchor="middle" fill="#333" stroke="#333" stroke-width="0.13" transform="rotate(-90 199.8 377.8)">Hearing level (dB)</text>
<line x1="52.60" y1="339.85" x2="71.20" y2="339.85" stroke="#a8464e" stroke-width="0.9" />
<line x1="77.90" y1="339.01" x2="96.70" y2="334.24" stroke="#a8464e" stroke-width="0.9" />
<line x1="103.40" y1="333.40" x2="122.00" y2="333.40" stroke="#a8464e" stroke-width="0.9" />
<line x1="127.97" y1="335.63" x2="137.69" y2="344.07" stroke="#a8464e" stroke-width="0.9" />
<line x1="153.50" y1="348.36" x2="173.50" y2="363.59" stroke="#a8464e" stroke-width="0.9" />
<circle cx="49.20" cy="339.85" r="3.4" fill="none" stroke="#a8464e" stroke-width="0.9"/>
<path d="M45.00,336.95H42.00V342.75H45.00" fill="none" stroke="#a8464e" stroke-width="0.9"/>
<circle cx="74.60" cy="339.85" r="3.4" fill="none" stroke="#a8464e" stroke-width="0.9"/>
<path d="M70.40,336.95H67.40V342.75H70.40" fill="none" stroke="#a8464e" stroke-width="0.9"/>
<circle cx="100.00" cy="333.40" r="3.4" fill="none" stroke="#a8464e" stroke-width="0.9"/>
<path d="M95.80,330.50H92.80V336.30H95.80" fill="none" stroke="#a8464e" stroke-width="0.9"/>
<circle cx="125.40" cy="333.40" r="3.4" fill="none" stroke="#a8464e" stroke-width="0.9"/>
<path d="M121.20,330.50H118.20V336.30H121.20" fill="none" stroke="#a8464e" stroke-width="0.9"/>
<circle cx="140.26" cy="346.30" r="3.4" fill="none" stroke="#a8464e" stroke-width="0.9"/>
<path d="M136.06,343.40H133.06V349.20H136.06" fill="none" stroke="#a8464e" stroke-width="0.9"/>
<circle cx="150.80" cy="346.30" r="3.4" fill="none" stroke="#a8464e" stroke-width="0.9"/>
<path d="M146.60,343.40H143.60V349.20H146.60" fill="none" stroke="#a8464e" stroke-width="0.9"/>
<circle cx="176.20" cy="365.65" r="3.4" fill="none" stroke="#a8464e" stroke-width="0.9"/>
<line x1="246.71" y1="319.37" x2="263.24" y2="315.18" stroke="#38387c" stroke-width="1.0" />
<line x1="272.16" y1="315.18" x2="288.69" y2="319.37" stroke="#38387c" stroke-width="1.0" />
<line x1="297.25" y1="318.42" x2="314.50" y2="309.68" stroke="#38387c" stroke-width="1.0" />
<line x1="322.08" y1="310.61" x2="330.01" y2="317.49" stroke="#38387c" stroke-width="1.0" />
<line x1="347.71" y1="323.28" x2="365.84" y2="337.07" stroke="#38387c" stroke-width="1.0" />
<path d="M238.85,317.10L245.65,323.90M245.65,317.10L238.85,323.90" stroke="#38387c" stroke-width="1.0" fill="none"/>
<path d="M264.30,310.65L271.10,317.45M271.10,310.65L264.30,317.45" stroke="#38387c" stroke-width="1.0" fill="none"/>
<path d="M289.75,317.10L296.55,323.90M296.55,317.10L289.75,323.90" stroke="#38387c" stroke-width="1.0" fill="none"/>
<path d="M315.20,304.20L322.00,311.00M322.00,304.20L315.20,311.00" stroke="#38387c" stroke-width="1.0" fill="none"/>
<path d="M330.09,317.10L336.89,323.90M336.89,317.10L330.09,323.90" stroke="#38387c" stroke-width="1.0" fill="none"/>
<path d="M340.65,317.10L347.45,323.90M347.45,317.10L340.65,323.90" stroke="#38387c" stroke-width="1.0" fill="none"/>
<path d="M366.10,336.45L372.90,343.25M372.90,336.45L366.10,343.25" stroke="#38387c" stroke-width="1.0" fill="none"/>
<text x="388.50" y="14.60" font-size="19.8" text-anchor="start" font-weight="bold" fill="#000" stroke="#000" stroke-width="0" >C</text>
<text x="420.50" y="101.20" font-size="6.75" text-anchor="start" font-weight="bold" fill="#111" stroke="#111" stroke-width="0.169" >Asymmetry</text>
<circle cx="422" cy="105.6" r="1.5" fill="#b02828"/>
<text x="424.60" y="107.20" font-size="4.0" text-anchor="start" font-weight="normal" fill="#333" stroke="#333" stroke-width="0.1" >Relative</text>
<circle cx="444" cy="105.6" r="1.5" fill="#1e8a84"/>
<text x="446.60" y="107.20" font-size="4.0" text-anchor="start" font-weight="normal" fill="#333" stroke="#333" stroke-width="0.1" >Normalized Relative</text>
<text x="420.50" y="120.30" font-size="6.85" text-anchor="start" font-weight="normal" fill="#1a1a1a" stroke="#1a1a1a" stroke-width="0.171" >Anterior:</text>
<text x="453.00" y="120.30" font-size="6.85" text-anchor="start" font-weight="bold" fill="#a83232" stroke="#a83232" stroke-width="0.171" >40%</text>
<text x="420.50" y="128.80" font-size="6.85" text-anchor="start" font-weight="normal" fill="#1a1a1a" stroke="#1a1a1a" stroke-width="0.171" >Lateral:</text>
<text x="453.00" y="128.80" font-size="6.85" text-anchor="start" font-weight="bold" fill="#a83232" stroke="#a83232" stroke-width="0.171" >57%</text>
<text x="420.50" y="137.20" font-size="6.85" text-anchor="start" font-weight="normal" fill="#1a1a1a" stroke="#1a1a1a" stroke-width="0.171" >Posterior:</text>
<text x="453.00" y="137.20" font-size="6.85" text-anchor="start" font-weight="bold" fill="#a83232" stroke="#a83232" stroke-width="0.171" >55%</text>
<rect x="483.50" y="95.30" width="123.50" height="84.70" rx="2" fill="#fff" stroke="#d2d2d2" stroke-width="0.8"/>
<rect x="482.90" y="176.50" width="124.70" height="6.90" fill="#8cbd8c" stroke="none" stroke-width="1" />
<text x="502.10" y="100.85" font-size="5.1" text-anchor="end" font-weight="normal" fill="#111" stroke="#111" stroke-width="0.128" >300</text>
<text x="502.10" y="116.75" font-size="5.1" text-anchor="end" font-weight="normal" fill="#111" stroke="#111" stroke-width="0.128" >200</text>
<text x="502.10" y="132.65" font-size="5.1" text-anchor="end" font-weight="normal" fill="#111" stroke="#111" stroke-width="0.128" >100</text>
<text x="502.10" y="148.55" font-size="5.1" text-anchor="end" font-weight="normal" fill="#111" stroke="#111" stroke-width="0.128" >0</text>
<text x="502.10" y="164.45" font-size="5.1" text-anchor="end" font-weight="normal" fill="#111" stroke="#111" stroke-width="0.128" >-100</text>
<text x="545.50" y="100.90" font-size="5.4" text-anchor="middle" font-weight="bold" fill="#222" stroke="#222" stroke-width="0.135" >Left Anterior</text>
<text x="504.00" y="169.40" font-size="5.1" text-anchor="middle" font-weight="normal" fill="#111" stroke="#111" stroke-width="0.128" >-140</text>
<text x="523.20" y="169.40" font-size="5.1" text-anchor="middle" font-weight="normal" fill="#111" stroke="#111" stroke-width="0.128" >0</text>
<text x="542.40" y="169.40" font-size="5.1" text-anchor="middle" font-weight="normal" fill="#111" stroke="#111" stroke-width="0.128" >140</text>
<text x="561.60" y="169.40" font-size="5.1" text-anchor="middle" font-weight="normal" fill="#111" stroke="#111" stroke-width="0.128" >280</text>
<text x="580.80" y="169.40" font-size="5.1" text-anchor="middle" font-weight="normal" fill="#111" stroke="#111" stroke-width="0.128" >420</text>
<text x="600.00" y="169.40" font-size="5.1" text-anchor="middle" font-weight="normal" fill="#111" stroke="#111" stroke-width="0.128" >560</text>
<text x="545.10" y="174.60" font-size="5.0" text-anchor="middle" font-weight="normal" fill="#111" stroke="#111" stroke-width="0.125" >Left Anterior (LA) ms</text>
<text x="488.20" y="135.00" font-size="5.2" text-anchor="middle" fill="#111" stroke="#111" stroke-width="0.13" transform="rotate(-90 488.20 135.00)">Head &amp; Eye Velocity</text>
<text x="488.20" y="182.30" font-size="5.1" fill="#111" stroke="#111" stroke-width="0.15">Mean Gains: 0.86<tspan dx="6">PR Score: NA</tspan></text>
<path d="M560.09,146.70C560.48,148.09 561.67,155.05 562.42,155.05C563.18,155.05 563.87,147.33 564.64,146.69C565.40,146.04 566.24,151.20 567.01,151.17C567.79,151.13 568.47,146.55 569.29,146.47C570.11,146.39 571.16,150.53 571.94,150.69C572.71,150.85 573.16,146.89 573.94,147.42C574.71,147.94 575.89,154.10 576.61,153.84C577.33,153.58 577.50,145.89 578.26,145.86C579.01,145.82 580.25,153.39 581.13,153.63C582.01,153.87 583.14,148.35 583.55,147.30" fill="none" stroke="#8dd3c3" stroke-width="0.5" stroke-opacity="0.85" stroke-linejoin="round"/>
<path d="M558.92,146.70C559.31,147.34 560.53,150.44 561.22,150.51C561.91,150.59 562.49,146.80 563.07,147.15C563.65,147.50 564.07,152.81 564.70,152.63C565.34,152.46 566.14,145.95 566.88,146.10C567.63,146.26 568.41,153.51 569.17,153.56C569.92,153.61 570.68,146.73 571.43,146.42C572.17,146.10 572.77,151.75 573.63,151.66C574.48,151.56 575.61,145.46 576.55,145.83C577.49,146.21 578.47,153.69 579.26,153.91C580.05,154.14 580.94,148.30 581.27,147.17" fill="none" stroke="#8dd3c3" stroke-width="0.5" stroke-opacity="0.85" stroke-linejoin="round"/>
<path d="M559.65,146.70C559.93,147.95 560.70,154.32 561.34,154.22C561.98,154.12 562.76,145.93 563.47,146.09C564.17,146.26 564.77,154.98 565.57,155.22C566.38,155.47 567.53,147.62 568.30,147.57C569.06,147.53 569.49,155.26 570.17,154.97C570.85,154.69 571.66,146.59 572.39,145.86C573.11,145.13 573.75,150.52 574.51,150.58C575.27,150.64 576.21,146.20 576.94,146.21C577.67,146.23 578.23,150.71 578.90,150.66C579.56,150.60 580.59,146.68 580.93,145.89" fill="none" stroke="#8dd3c3" stroke-width="0.5" stroke-opacity="0.85" stroke-linejoin="round"/>
<path d="M560.90,146.70C561.19,147.50 562.07,151.36 562.65,151.49C563.23,151.62 563.65,147.53 564.38,147.47C565.11,147.41 566.20,151.24 567.03,151.13C567.86,151.02 568.67,146.31 569.37,146.79C570.07,147.28 570.62,154.10 571.22,154.04C571.82,153.98 572.40,146.72 572.99,146.45C573.57,146.18 574.13,152.30 574.74,152.41C575.34,152.51 575.82,146.77 576.62,147.10C577.41,147.44 578.69,154.59 579.50,154.41C580.31,154.23 581.17,147.42 581.50,146.03" fill="none" stroke="#8dd3c3" stroke-width="0.5" stroke-opacity="0.85" stroke-linejoin="round"/>
<path d="M504.25,146.70C506.02,146.74 511.89,146.89 514.88,146.95C517.87,147.02 520.42,148.02 522.19,147.08C523.96,146.13 524.47,144.29 525.51,141.29C526.55,138.29 527.55,131.82 528.43,129.09C529.32,126.37 530.03,125.20 530.83,124.94C531.62,124.68 532.11,125.20 533.22,127.53C534.33,129.86 535.94,135.62 537.47,138.93C539.00,142.24 540.95,145.63 542.39,147.39C543.83,149.16 544.05,149.58 546.11,149.52C548.17,149.45 551.31,147.51 554.75,147.02C558.18,146.54 562.06,146.50 566.71,146.61C571.36,146.72 577.56,147.20 582.66,147.70C587.75,148.19 594.84,149.28 597.28,149.60" fill="none" stroke="#8fd6c0" stroke-width="0.6" stroke-opacity="0.85" stroke-linejoin="round"/>
<path d="M504.46,146.10C506.23,146.20 512.10,146.65 515.09,146.67C518.08,146.68 520.63,147.06 522.40,146.18C524.18,145.30 524.69,143.83 525.73,141.40C526.77,138.96 527.76,133.95 528.65,131.57C529.54,129.18 530.24,127.54 531.04,127.08C531.84,126.62 532.33,126.69 533.43,128.82C534.54,130.95 536.16,136.56 537.69,139.86C539.22,143.15 541.16,146.90 542.60,148.59C544.04,150.28 544.27,150.24 546.33,150.00C548.39,149.77 551.53,147.76 554.96,147.19C558.40,146.63 562.27,146.50 566.93,146.62C571.58,146.73 577.78,147.68 582.87,147.91C587.97,148.13 595.06,147.97 597.49,147.98" fill="none" stroke="#9ccfe6" stroke-width="0.6" stroke-opacity="0.85" stroke-linejoin="round"/>
<path d="M505.03,146.48C506.80,146.51 512.67,146.68 515.66,146.64C518.65,146.60 521.19,147.10 522.97,146.25C524.74,145.39 525.25,144.31 526.29,141.50C527.33,138.70 528.33,131.99 529.21,129.43C530.10,126.86 530.81,126.50 531.61,126.12C532.40,125.75 532.89,124.93 534.00,127.18C535.10,129.44 536.72,136.09 538.25,139.67C539.78,143.25 541.73,146.95 543.17,148.67C544.61,150.39 544.83,150.05 546.89,149.99C548.95,149.92 552.09,148.73 555.53,148.26C558.96,147.79 562.84,147.50 567.49,147.17C572.14,146.84 578.34,145.89 583.44,146.27C588.53,146.66 595.62,148.96 598.06,149.50" fill="none" stroke="#7ccb9c" stroke-width="0.6" stroke-opacity="0.85" stroke-linejoin="round"/>
<path d="M505.45,147.03C507.22,147.05 513.09,147.38 516.08,147.17C519.07,146.95 521.62,146.75 523.39,145.72C525.16,144.69 525.67,143.86 526.71,140.98C527.75,138.10 528.75,131.19 529.63,128.45C530.52,125.71 531.23,124.76 532.03,124.57C532.82,124.38 533.31,124.97 534.42,127.31C535.53,129.65 537.14,135.10 538.67,138.59C540.20,142.09 542.15,146.25 543.59,148.27C545.03,150.29 545.25,150.76 547.31,150.71C549.37,150.66 552.51,148.78 555.95,147.98C559.38,147.17 563.26,146.02 567.91,145.89C572.56,145.76 578.76,146.72 583.86,147.20C588.95,147.67 596.04,148.48 598.48,148.74" fill="none" stroke="#a6dccb" stroke-width="0.6" stroke-opacity="0.85" stroke-linejoin="round"/>
<path d="M504.07,145.32C505.84,145.59 511.71,146.74 514.70,146.94C517.69,147.15 520.23,147.76 522.01,146.56C523.78,145.37 524.29,142.87 525.33,139.76C526.37,136.65 527.37,130.50 528.25,127.91C529.14,125.31 529.85,124.60 530.65,124.17C531.44,123.73 531.93,122.97 533.04,125.31C534.15,127.66 535.76,134.51 537.29,138.24C538.82,141.96 540.77,145.87 542.21,147.67C543.65,149.46 543.87,149.00 545.93,149.03C547.99,149.06 551.13,148.44 554.57,147.85C558.00,147.25 561.88,145.59 566.53,145.47C571.18,145.35 577.38,146.67 582.48,147.13C587.57,147.59 594.66,148.03 597.10,148.21" fill="none" stroke="#8fd6c0" stroke-width="0.6" stroke-opacity="0.85" stroke-linejoin="round"/>
<path d="M504.49,145.38C506.26,145.77 512.13,147.64 515.12,147.71C518.11,147.79 520.66,146.99 522.43,145.84C524.20,144.69 524.71,143.87 525.75,140.82C526.79,137.78 527.79,130.88 528.67,127.57C529.56,124.26 530.27,121.60 531.07,120.96C531.86,120.32 532.35,121.00 533.46,123.75C534.57,126.50 536.18,133.47 537.71,137.45C539.24,141.44 541.19,145.70 542.63,147.65C544.07,149.61 544.29,149.12 546.35,149.16C548.41,149.20 551.56,148.30 554.99,147.90C558.42,147.51 562.30,146.89 566.95,146.77C571.60,146.66 577.80,146.72 582.90,147.20C587.99,147.69 595.08,149.29 597.52,149.71" fill="none" stroke="#9ccfe6" stroke-width="0.6" stroke-opacity="0.85" stroke-linejoin="round"/>
<path d="M504.77,146.66C506.54,146.70 512.41,146.83 515.40,146.91C518.39,146.98 520.94,148.32 522.71,147.11C524.48,145.89 524.99,142.84 526.03,139.63C527.07,136.41 528.07,130.61 528.96,127.82C529.84,125.03 530.55,123.38 531.35,122.88C532.15,122.37 532.63,122.26 533.74,124.80C534.85,127.34 536.47,134.19 537.99,138.13C539.52,142.07 541.47,146.64 542.91,148.45C544.35,150.27 544.57,149.14 546.63,149.03C548.69,148.92 551.84,148.36 555.27,147.80C558.70,147.24 562.58,145.75 567.23,145.65C571.88,145.55 578.09,146.73 583.18,147.19C588.27,147.65 595.36,148.21 597.80,148.41" fill="none" stroke="#7ccb9c" stroke-width="0.6" stroke-opacity="0.85" stroke-linejoin="round"/>
<path d="M504.81,145.68C506.59,145.94 512.46,147.06 515.45,147.27C518.44,147.48 520.98,148.08 522.76,146.95C524.53,145.82 525.04,143.44 526.08,140.49C527.12,137.54 528.12,132.23 529.00,129.24C529.89,126.24 530.60,122.99 531.39,122.51C532.19,122.04 532.68,123.89 533.79,126.38C534.89,128.87 536.51,133.86 538.04,137.46C539.57,141.06 541.52,145.87 542.96,147.98C544.40,150.09 544.62,150.26 546.68,150.12C548.74,149.99 551.88,147.89 555.32,147.19C558.75,146.48 562.63,146.00 567.28,145.90C571.93,145.81 578.13,146.04 583.23,146.63C588.32,147.21 595.41,148.94 597.84,149.41" fill="none" stroke="#a6dccb" stroke-width="0.6" stroke-opacity="0.85" stroke-linejoin="round"/>
<path d="M502.88,145.20C504.65,145.61 510.52,147.34 513.51,147.67C516.50,148.00 519.05,148.36 520.82,147.19C522.60,146.03 523.10,144.00 524.15,140.66C525.19,137.33 526.18,130.17 527.07,127.18C527.96,124.18 528.66,123.04 529.46,122.69C530.26,122.34 530.75,122.50 531.85,125.07C532.96,127.65 534.58,134.38 536.11,138.14C537.63,141.91 539.58,145.83 541.02,147.69C542.46,149.54 542.69,149.22 544.75,149.29C546.81,149.36 549.95,148.70 553.38,148.10C556.82,147.51 560.69,145.84 565.34,145.72C570.00,145.60 576.20,146.69 581.29,147.40C586.39,148.10 593.48,149.52 595.91,149.95" fill="none" stroke="#8fd6c0" stroke-width="0.6" stroke-opacity="0.85" stroke-linejoin="round"/>
<path d="M504.71,147.10C506.48,147.12 512.35,147.24 515.34,147.23C518.33,147.21 520.88,148.11 522.65,147.01C524.42,145.90 524.93,144.05 525.97,140.60C527.01,137.16 528.01,129.61 528.90,126.34C529.78,123.06 530.49,121.36 531.29,120.96C532.09,120.57 532.57,121.19 533.68,123.99C534.79,126.79 536.41,133.83 537.93,137.77C539.46,141.71 541.41,145.52 542.85,147.61C544.29,149.69 544.51,150.11 546.57,150.26C548.63,150.41 551.78,149.02 555.21,148.53C558.65,148.05 562.52,147.73 567.17,147.34C571.82,146.96 578.03,146.06 583.12,146.22C588.22,146.37 595.30,147.93 597.74,148.27" fill="none" stroke="#9ccfe6" stroke-width="0.6" stroke-opacity="0.85" stroke-linejoin="round"/>
<path d="M505.25,146.82C507.02,146.90 512.89,147.38 515.88,147.30C518.87,147.22 521.42,147.31 523.19,146.34C524.96,145.38 525.47,144.28 526.51,141.51C527.55,138.73 528.55,132.50 529.44,129.70C530.32,126.90 531.03,125.04 531.83,124.71C532.62,124.39 533.11,125.34 534.22,127.77C535.33,130.19 536.94,135.75 538.47,139.26C540.00,142.77 541.95,146.92 543.39,148.82C544.83,150.73 545.05,150.97 547.11,150.70C549.17,150.43 552.32,147.77 555.75,147.20C559.18,146.63 563.06,147.26 567.71,147.28C572.36,147.30 578.56,146.97 583.66,147.32C588.75,147.68 595.84,149.06 598.28,149.41" fill="none" stroke="#7ccb9c" stroke-width="0.6" stroke-opacity="0.85" stroke-linejoin="round"/>
<path d="M503.98,146.63C505.75,146.54 511.62,146.23 514.61,146.07C517.60,145.90 520.15,146.53 521.92,145.65C523.69,144.78 524.20,144.05 525.25,140.81C526.29,137.58 527.28,129.52 528.17,126.25C529.05,122.97 529.76,121.63 530.56,121.15C531.36,120.66 531.85,120.68 532.95,123.35C534.06,126.02 535.68,133.14 537.21,137.18C538.73,141.22 540.68,145.57 542.12,147.59C543.56,149.62 543.78,149.44 545.84,149.34C547.90,149.25 551.05,147.38 554.48,147.04C557.92,146.71 561.79,147.18 566.44,147.32C571.10,147.47 577.30,147.76 582.39,147.89C587.49,148.03 594.57,148.09 597.01,148.13" fill="none" stroke="#a6dccb" stroke-width="0.6" stroke-opacity="0.85" stroke-linejoin="round"/>
<path d="M503.60,146.21C505.37,146.29 511.24,146.70 514.23,146.70C517.22,146.70 519.77,147.25 521.54,146.21C523.31,145.17 523.82,143.45 524.86,140.48C525.90,137.50 526.90,131.22 527.78,128.36C528.67,125.49 529.38,123.72 530.18,123.28C530.97,122.84 531.46,123.25 532.57,125.74C533.68,128.22 535.29,134.44 536.82,138.18C538.35,141.92 540.30,146.21 541.74,148.17C543.18,150.14 543.40,150.08 545.46,149.98C547.52,149.87 550.67,148.12 554.10,147.52C557.53,146.92 561.41,146.43 566.06,146.37C570.71,146.32 576.91,146.78 582.01,147.19C587.10,147.60 594.19,148.56 596.63,148.83" fill="none" stroke="#8cc7e0" stroke-width="1.1" stroke-opacity="0.8" stroke-linejoin="round"/>
<path d="M503.86,145.79C505.63,146.01 511.50,147.09 514.49,147.11C517.48,147.12 520.03,146.85 521.80,145.90C523.57,144.95 524.08,144.02 525.12,141.41C526.16,138.80 527.16,133.09 528.05,130.24C528.93,127.40 529.64,124.85 530.44,124.35C531.24,123.85 531.72,124.76 532.83,127.25C533.94,129.74 535.56,135.90 537.08,139.28C538.61,142.65 540.56,145.87 542.00,147.52C543.44,149.17 543.66,149.24 545.72,149.17C547.78,149.09 550.93,147.49 554.36,147.08C557.79,146.67 561.67,146.62 566.32,146.71C570.97,146.79 577.18,147.19 582.27,147.58C587.36,147.97 594.45,148.82 596.89,149.07" fill="none" stroke="#62c184" stroke-width="1.0" stroke-opacity="0.85" stroke-linejoin="round"/>
<path d="M505.01,146.77C506.78,146.79 512.65,146.93 515.64,146.90C518.63,146.88 521.18,147.64 522.95,146.61C524.73,145.57 525.24,143.56 526.28,140.70C527.32,137.83 528.31,132.15 529.20,129.40C530.09,126.65 530.80,124.63 531.59,124.19C532.39,123.74 532.88,124.28 533.98,126.71C535.09,129.15 536.71,135.21 538.24,138.79C539.77,142.37 541.72,146.31 543.15,148.20C544.59,150.08 544.82,150.13 546.88,150.11C548.94,150.09 552.08,148.78 555.51,148.07C558.95,147.36 562.82,145.91 567.48,145.85C572.13,145.80 578.33,147.33 583.42,147.76C588.52,148.19 595.61,148.32 598.04,148.43" fill="none" stroke="#62c184" stroke-width="1.0" stroke-opacity="0.85" stroke-linejoin="round"/>
<path d="M504.13,145.67C505.90,145.80 511.77,146.47 514.76,146.47C517.75,146.47 520.30,146.68 522.07,145.68C523.84,144.68 524.35,143.33 525.39,140.44C526.43,137.56 527.43,131.02 528.32,128.36C529.20,125.69 529.91,124.71 530.71,124.42C531.51,124.13 531.99,124.28 533.10,126.62C534.21,128.95 535.83,134.94 537.35,138.42C538.88,141.90 540.83,145.59 542.27,147.50C543.71,149.41 543.93,149.78 545.99,149.86C548.05,149.94 551.20,148.60 554.63,147.97C558.06,147.34 561.94,146.15 566.59,146.09C571.24,146.03 577.45,147.05 582.54,147.59C587.64,148.13 594.72,149.03 597.16,149.32" fill="none" stroke="#62c184" stroke-width="1.0" stroke-opacity="0.85" stroke-linejoin="round"/>
<path d="M504.20,146.67C505.97,146.72 511.84,147.04 514.83,146.97C517.82,146.90 520.37,147.42 522.14,146.27C523.91,145.12 524.42,143.06 525.46,140.06C526.50,137.06 527.50,130.91 528.38,128.28C529.27,125.64 529.98,124.51 530.78,124.24C531.57,123.97 532.06,124.34 533.17,126.65C534.28,128.97 535.89,134.66 537.42,138.15C538.95,141.64 540.90,145.71 542.34,147.60C543.78,149.50 544.00,149.57 546.06,149.54C548.12,149.50 551.26,147.82 554.70,147.39C558.13,146.95 562.01,147.04 566.66,146.93C571.31,146.81 577.51,146.35 582.61,146.70C587.70,147.05 594.79,148.64 597.23,149.02" fill="none" stroke="#62c184" stroke-width="1.0" stroke-opacity="0.85" stroke-linejoin="round"/>
<path d="M504.39,146.22C506.17,146.30 512.04,146.70 515.03,146.70C518.02,146.70 520.56,147.23 522.34,146.22C524.11,145.22 524.62,143.55 525.66,140.66C526.70,137.77 527.70,131.67 528.58,128.89C529.47,126.11 530.18,124.39 530.97,123.96C531.77,123.54 532.26,123.94 533.37,126.35C534.47,128.76 536.09,134.80 537.62,138.43C539.15,142.06 541.10,146.22 542.54,148.13C543.98,150.04 544.20,149.99 546.26,149.88C548.32,149.77 551.46,148.08 554.90,147.49C558.33,146.91 562.21,146.43 566.86,146.38C571.51,146.33 577.71,146.78 582.80,147.18C587.90,147.57 594.99,148.50 597.42,148.77" fill="none" stroke="#5cbf80" stroke-width="1.9" stroke-opacity="1.0" stroke-linejoin="round"/>
<rect x="607.40" y="95.30" width="124.60" height="84.70" rx="2" fill="#fff" stroke="#d2d2d2" stroke-width="0.8"/>
<rect x="606.80" y="176.50" width="125.80" height="6.90" fill="#8cbd8c" stroke="none" stroke-width="1" />
<text x="626.00" y="100.85" font-size="5.1" text-anchor="end" font-weight="normal" fill="#111" stroke="#111" stroke-width="0.128" >300</text>
<text x="626.00" y="116.75" font-size="5.1" text-anchor="end" font-weight="normal" fill="#111" stroke="#111" stroke-width="0.128" >200</text>
<text x="626.00" y="132.65" font-size="5.1" text-anchor="end" font-weight="normal" fill="#111" stroke="#111" stroke-width="0.128" >100</text>
<text x="626.00" y="148.55" font-size="5.1" text-anchor="end" font-weight="normal" fill="#111" stroke="#111" stroke-width="0.128" >0</text>
<text x="626.00" y="164.45" font-size="5.1" text-anchor="end" font-weight="normal" fill="#111" stroke="#111" stroke-width="0.128" >-100</text>
<text x="669.40" y="100.90" font-size="5.4" text-anchor="middle" font-weight="bold" fill="#222" stroke="#222" stroke-width="0.135" >Right Anterior</text>
<text x="627.90" y="169.40" font-size="5.1" text-anchor="middle" font-weight="normal" fill="#111" stroke="#111" stroke-width="0.128" >-140</text>
<text x="647.10" y="169.40" font-size="5.1" text-anchor="middle" font-weight="normal" fill="#111" stroke="#111" stroke-width="0.128" >0</text>
<text x="666.30" y="169.40" font-size="5.1" text-anchor="middle" font-weight="normal" fill="#111" stroke="#111" stroke-width="0.128" >140</text>
<text x="685.50" y="169.40" font-size="5.1" text-anchor="middle" font-weight="normal" fill="#111" stroke="#111" stroke-width="0.128" >280</text>
<text x="704.70" y="169.40" font-size="5.1" text-anchor="middle" font-weight="normal" fill="#111" stroke="#111" stroke-width="0.128" >420</text>
<text x="723.90" y="169.40" font-size="5.1" text-anchor="middle" font-weight="normal" fill="#111" stroke="#111" stroke-width="0.128" >560</text>
<text x="669.00" y="174.60" font-size="5.0" text-anchor="middle" font-weight="normal" fill="#111" stroke="#111" stroke-width="0.125" >Right Anterior (RA) ms</text>
<text x="612.10" y="135.00" font-size="5.2" text-anchor="middle" fill="#111" stroke="#111" stroke-width="0.13" transform="rotate(-90 612.10 135.00)">Head &amp; Eye Velocity</text>
<text x="612.10" y="182.30" font-size="5.1" fill="#111" stroke="#111" stroke-width="0.15">Mean Gains: 0.52<tspan dx="6">PR Score: NA</tspan></text>
<path d="M688.10,146.70C688.67,144.42 690.67,133.56 691.55,133.03C692.44,132.50 692.77,143.20 693.41,143.52C694.06,143.84 694.74,134.67 695.41,134.93C696.07,135.20 696.76,144.79 697.40,145.11C698.04,145.43 698.71,136.58 699.26,136.84C699.82,137.11 700.19,144.26 700.72,146.70C701.26,149.14 701.90,151.47 702.45,151.47C703.01,151.47 703.32,148.82 704.05,146.70C704.78,144.58 706.06,138.75 706.84,138.75C707.61,138.75 707.77,146.89 708.70,146.70C709.63,146.51 711.53,137.77 712.42,137.64C713.31,137.50 713.48,145.59 714.01,145.91C714.55,146.22 715.06,139.41 715.61,139.54C716.16,139.68 717.05,145.51 717.34,146.70" fill="none" stroke="#8dd3c3" stroke-width="0.6" stroke-opacity="0.8" stroke-linejoin="round"/>
<path d="M689.43,146.70C689.87,144.84 691.29,135.70 692.09,135.57C692.88,135.44 693.50,145.64 694.21,145.91C694.92,146.17 695.59,136.76 696.34,137.16C697.09,137.56 697.89,147.76 698.73,148.29C699.57,148.82 700.61,140.07 701.39,140.34C702.16,140.60 702.72,148.82 703.38,149.88C704.05,150.94 705.04,147.23 705.38,146.70" fill="none" stroke="#8dd3c3" stroke-width="0.6" stroke-opacity="0.8" stroke-linejoin="round"/>
<path d="M657.53,140.34C657.97,139.01 659.30,132.65 660.19,132.39C661.08,132.12 661.96,138.62 662.85,138.75C663.73,138.88 664.62,132.66 665.51,133.19C666.39,133.72 667.28,141.27 668.16,141.93C669.05,142.59 669.94,136.63 670.82,137.16C671.71,137.69 672.59,143.52 673.48,145.11C674.37,146.70 675.69,146.44 676.14,146.70" fill="none" stroke="#8dd3c3" stroke-width="0.6" stroke-opacity="0.8" stroke-linejoin="round"/>
<path d="M658.86,138.75C659.30,138.22 660.63,136.37 661.52,135.57C662.40,134.77 663.29,133.71 664.18,133.98C665.06,134.25 665.95,136.89 666.83,137.16C667.72,137.43 668.50,134.51 669.49,135.57C670.49,136.63 671.82,141.80 672.82,143.52C673.81,145.24 675.03,145.51 675.47,145.91" fill="none" stroke="#8dd3c3" stroke-width="0.6" stroke-opacity="0.8" stroke-linejoin="round"/>
<path d="M656.20,139.54C656.76,138.75 658.53,134.64 659.53,134.77C660.52,134.91 661.30,140.21 662.18,140.34C663.07,140.47 663.96,135.70 664.84,135.57C665.73,135.44 666.61,138.75 667.50,139.54C668.39,140.34 669.05,139.15 670.16,140.34C671.26,141.53 673.48,145.64 674.14,146.70" fill="none" stroke="#8dd3c3" stroke-width="0.6" stroke-opacity="0.8" stroke-linejoin="round"/>
<path d="M658.20,137.95C659.08,137.03 662.18,131.99 663.51,132.39C664.84,132.79 665.28,139.41 666.17,140.34C667.06,141.27 667.94,137.56 668.83,137.95C669.71,138.35 670.49,141.27 671.49,142.72C672.48,144.18 674.26,146.04 674.81,146.70" fill="none" stroke="#8dd3c3" stroke-width="0.6" stroke-opacity="0.8" stroke-linejoin="round"/>
<path d="M628.99,145.59C631.64,145.69 641.61,147.57 644.93,146.22C648.26,144.87 647.59,140.45 648.92,137.48C650.25,134.52 651.58,129.23 652.91,128.42C654.24,127.61 655.34,129.94 656.89,132.63C658.44,135.31 660.22,141.71 662.21,144.54C664.20,147.37 666.42,148.97 668.86,149.60C671.29,150.23 673.73,148.79 676.83,148.32C679.93,147.84 679.93,146.96 687.46,146.74C694.99,146.53 716.26,146.97 722.02,147.01" fill="none" stroke="#f2b886" stroke-width="0.7" stroke-opacity="0.9" stroke-linejoin="round"/>
<path d="M627.29,146.92C629.94,146.77 639.91,147.75 643.23,146.03C646.56,144.31 645.89,139.61 647.22,136.60C648.55,133.59 649.88,128.69 651.21,127.98C652.54,127.27 653.64,129.58 655.20,132.32C656.75,135.05 658.52,141.46 660.51,144.40C662.50,147.33 664.72,149.42 667.16,149.93C669.59,150.43 672.03,147.83 675.13,147.43C678.23,147.02 678.23,147.37 685.76,147.48C693.29,147.59 714.56,147.98 720.32,148.08" fill="none" stroke="#f2b886" stroke-width="0.7" stroke-opacity="0.9" stroke-linejoin="round"/>
<path d="M629.25,145.38C631.91,145.46 641.88,147.06 645.20,145.86C648.52,144.66 647.86,141.03 649.19,138.18C650.52,135.34 651.85,129.81 653.17,128.79C654.50,127.77 655.61,129.53 657.16,132.06C658.71,134.58 660.48,140.96 662.48,143.92C664.47,146.88 666.69,149.08 669.12,149.81C671.56,150.54 674.00,148.86 677.10,148.30C680.20,147.75 680.20,146.72 687.73,146.50C695.26,146.28 716.52,146.89 722.28,146.97" fill="none" stroke="#f2b886" stroke-width="0.7" stroke-opacity="0.9" stroke-linejoin="round"/>
<path d="M627.53,146.72C630.19,146.70 640.16,148.15 643.48,146.62C646.80,145.09 646.14,140.70 647.47,137.55C648.80,134.40 650.13,128.59 651.46,127.72C652.79,126.86 653.89,129.47 655.44,132.38C656.99,135.28 658.77,142.05 660.76,145.17C662.75,148.28 664.97,150.70 667.40,151.06C669.84,151.42 672.28,147.97 675.38,147.32C678.48,146.67 678.48,147.09 686.01,147.15C693.54,147.21 714.81,147.58 720.56,147.67" fill="none" stroke="#f2b886" stroke-width="0.7" stroke-opacity="0.9" stroke-linejoin="round"/>
<path d="M627.53,146.72C630.19,146.84 640.16,148.87 643.48,147.41C646.80,145.95 646.14,140.94 647.46,137.95C648.79,134.95 650.12,130.09 651.45,129.44C652.78,128.79 653.89,131.53 655.44,134.07C656.99,136.60 658.76,142.11 660.75,144.64C662.75,147.17 664.96,148.78 667.40,149.23C669.84,149.68 672.27,147.86 675.37,147.35C678.47,146.85 678.47,146.18 686.01,146.23C693.54,146.27 714.80,147.41 720.56,147.64" fill="none" stroke="#f2b886" stroke-width="0.7" stroke-opacity="0.9" stroke-linejoin="round"/>
<path d="M628.46,146.06C631.11,146.09 641.08,147.70 644.40,146.28C647.73,144.87 647.06,140.50 648.39,137.57C649.72,134.64 651.05,129.40 652.38,128.70C653.71,128.00 654.81,130.84 656.36,133.36C657.91,135.88 659.69,140.93 661.68,143.82C663.67,146.70 665.89,149.99 668.33,150.67C670.76,151.35 673.20,148.70 676.30,147.91C679.40,147.12 679.40,146.11 686.93,145.94C694.46,145.76 715.73,146.72 721.49,146.87" fill="none" stroke="#f2b886" stroke-width="0.7" stroke-opacity="0.9" stroke-linejoin="round"/>
<path d="M628.29,146.22C630.95,146.30 640.92,148.21 644.24,146.70C647.56,145.19 646.90,140.34 648.23,137.16C649.56,133.98 650.89,128.41 652.22,127.62C653.55,126.82 654.65,129.61 656.20,132.39C657.75,135.17 659.53,141.35 661.52,144.31C663.51,147.28 665.73,149.59 668.16,150.20C670.60,150.81 673.04,148.55 676.14,147.97C679.24,147.39 679.24,146.83 686.77,146.70C694.30,146.57 715.56,147.10 721.32,147.18" fill="none" stroke="#eda464" stroke-width="1.3" stroke-opacity="1.0" stroke-linejoin="round"/>
<path d="M628.67,146.68C630.44,146.72 636.20,146.72 639.30,146.92C642.40,147.12 645.50,148.34 647.28,147.88C649.05,147.41 648.94,145.58 649.93,144.13C650.93,142.68 651.71,140.26 653.26,139.18C654.81,138.10 657.36,137.48 659.24,137.67C661.12,137.86 663.00,139.30 664.55,140.35C666.10,141.39 667.21,142.24 668.54,143.96C669.87,145.69 670.98,149.85 672.53,150.69C674.08,151.52 675.41,149.42 677.84,148.95C680.28,148.49 679.84,148.28 687.15,147.89C694.46,147.51 715.94,146.85 721.70,146.64" fill="none" stroke="#8fd6c0" stroke-width="0.6" stroke-opacity="0.85" stroke-linejoin="round"/>
<path d="M628.67,144.83C630.44,145.13 636.20,145.98 639.30,146.64C642.40,147.30 645.50,149.30 647.27,148.80C649.04,148.30 648.93,145.44 649.93,143.65C650.93,141.86 651.70,139.28 653.25,138.08C654.80,136.88 657.35,136.21 659.23,136.46C661.12,136.71 663.00,138.30 664.55,139.59C666.10,140.89 667.21,142.51 668.54,144.22C669.86,145.93 670.97,149.17 672.52,149.86C674.07,150.54 675.40,148.80 677.84,148.33C680.28,147.87 679.83,147.31 687.14,147.07C694.45,146.84 715.94,146.95 721.70,146.92" fill="none" stroke="#9ccfe6" stroke-width="0.6" stroke-opacity="0.85" stroke-linejoin="round"/>
<path d="M627.94,145.17C629.71,145.34 635.47,145.48 638.57,146.20C641.67,146.92 644.77,149.69 646.54,149.50C648.31,149.32 648.20,146.95 649.20,145.10C650.20,143.24 650.97,139.86 652.52,138.37C654.07,136.88 656.62,135.97 658.50,136.14C660.39,136.31 662.27,138.01 663.82,139.39C665.37,140.78 666.48,142.85 667.81,144.46C669.14,146.07 670.24,148.53 671.79,149.05C673.34,149.57 674.67,148.06 677.11,147.57C679.55,147.08 679.10,146.34 686.41,146.14C693.72,145.93 715.21,146.30 720.97,146.34" fill="none" stroke="#7ccb9c" stroke-width="0.6" stroke-opacity="0.85" stroke-linejoin="round"/>
<path d="M629.09,145.64C630.87,145.94 636.62,146.95 639.73,147.42C642.83,147.90 645.93,148.89 647.70,148.51C649.47,148.12 649.36,146.36 650.36,145.12C651.35,143.87 652.13,141.95 653.68,141.01C655.23,140.08 657.78,139.18 659.66,139.49C661.54,139.80 663.43,141.88 664.98,142.86C666.53,143.83 667.63,144.22 668.96,145.34C670.29,146.46 671.40,149.09 672.95,149.56C674.50,150.04 675.83,148.58 678.27,148.19C680.70,147.81 680.26,147.41 687.57,147.23C694.88,147.05 716.36,147.13 722.12,147.11" fill="none" stroke="#a6dccb" stroke-width="0.6" stroke-opacity="0.85" stroke-linejoin="round"/>
<path d="M627.35,146.34C629.13,146.43 634.89,146.43 637.99,146.90C641.09,147.37 644.19,149.56 645.96,149.17C647.73,148.78 647.62,146.24 648.62,144.54C649.62,142.85 650.39,140.18 651.94,139.00C653.49,137.83 656.04,137.27 657.92,137.49C659.80,137.70 661.69,139.13 663.24,140.28C664.79,141.43 665.90,142.91 667.22,144.40C668.55,145.89 669.66,148.54 671.21,149.24C672.76,149.93 674.09,148.80 676.53,148.56C678.96,148.31 678.52,148.13 685.83,147.74C693.14,147.36 714.63,146.48 720.38,146.22" fill="none" stroke="#8fd6c0" stroke-width="0.6" stroke-opacity="0.85" stroke-linejoin="round"/>
<path d="M626.73,146.76C628.51,146.78 634.27,146.72 637.37,146.88C640.47,147.04 643.57,147.88 645.34,147.72C647.11,147.56 647.00,146.99 648.00,145.92C648.99,144.85 649.77,142.27 651.32,141.32C652.87,140.36 655.42,140.10 657.30,140.19C659.18,140.28 661.07,141.10 662.62,141.85C664.17,142.59 665.28,143.41 666.60,144.66C667.93,145.91 669.04,148.67 670.59,149.35C672.14,150.03 673.47,149.26 675.91,148.76C678.34,148.26 677.90,146.57 685.21,146.37C692.52,146.16 714.01,147.33 719.76,147.52" fill="none" stroke="#9ccfe6" stroke-width="0.6" stroke-opacity="0.85" stroke-linejoin="round"/>
<path d="M629.13,145.12C630.91,145.27 636.67,145.48 639.77,146.01C642.87,146.54 645.97,148.46 647.74,148.30C649.51,148.14 649.40,146.56 650.40,145.04C651.40,143.51 652.17,140.51 653.72,139.18C655.27,137.84 657.82,136.85 659.70,137.03C661.58,137.21 663.47,139.10 665.02,140.26C666.57,141.42 667.68,142.33 669.00,143.99C670.33,145.65 671.44,149.54 672.99,150.23C674.54,150.93 675.87,148.68 678.31,148.16C680.74,147.64 680.30,147.41 687.61,147.11C694.92,146.81 716.41,146.46 722.16,146.33" fill="none" stroke="#7ccb9c" stroke-width="0.6" stroke-opacity="0.85" stroke-linejoin="round"/>
<path d="M628.82,145.51C630.59,145.60 636.35,145.62 639.45,146.02C642.55,146.42 645.65,147.91 647.42,147.91C649.20,147.92 649.09,147.26 650.08,146.02C651.08,144.79 651.85,141.45 653.40,140.48C654.96,139.51 657.50,140.00 659.39,140.22C661.27,140.43 663.15,140.85 664.70,141.76C666.25,142.66 667.36,144.54 668.69,145.64C670.02,146.73 671.12,148.06 672.68,148.33C674.23,148.61 675.55,147.43 677.99,147.27C680.43,147.11 679.98,147.32 687.29,147.37C694.60,147.42 716.09,147.54 721.85,147.57" fill="none" stroke="#a6dccb" stroke-width="0.6" stroke-opacity="0.85" stroke-linejoin="round"/>
<path d="M627.04,146.68C628.81,146.67 634.57,146.25 637.67,146.59C640.77,146.93 643.87,148.89 645.64,148.75C647.41,148.61 647.30,147.04 648.30,145.75C649.30,144.47 650.07,141.99 651.62,141.03C653.17,140.07 655.72,139.77 657.60,139.98C659.49,140.19 661.37,141.36 662.92,142.30C664.47,143.24 665.58,144.46 666.91,145.64C668.23,146.82 669.34,148.98 670.89,149.38C672.44,149.77 673.77,148.52 676.21,148.01C678.65,147.51 678.20,146.57 685.51,146.33C692.82,146.10 714.31,146.55 720.07,146.59" fill="none" stroke="#8fd6c0" stroke-width="0.6" stroke-opacity="0.85" stroke-linejoin="round"/>
<path d="M627.26,146.31C629.03,146.46 634.79,146.89 637.89,147.18C640.99,147.46 644.09,148.34 645.86,148.02C647.63,147.71 647.52,146.42 648.52,145.27C649.52,144.13 650.29,141.97 651.84,141.15C653.39,140.33 655.94,140.30 657.82,140.38C659.71,140.45 661.59,140.89 663.14,141.58C664.69,142.28 665.80,143.42 667.13,144.56C668.45,145.69 669.56,147.80 671.11,148.41C672.66,149.02 673.99,148.48 676.43,148.21C678.87,147.94 678.42,147.09 685.73,146.78C693.04,146.47 714.53,146.41 720.29,146.33" fill="none" stroke="#9ccfe6" stroke-width="0.6" stroke-opacity="0.85" stroke-linejoin="round"/>
<path d="M628.29,145.88C630.07,146.02 635.82,146.24 638.93,146.70C642.03,147.16 645.13,148.94 646.90,148.67C648.67,148.39 648.56,146.62 649.56,145.06C650.55,143.51 651.33,140.48 652.88,139.33C654.43,138.18 656.98,137.91 658.86,138.18C660.74,138.46 662.63,139.82 664.18,140.97C665.73,142.11 666.84,143.62 668.16,145.06C669.49,146.51 670.60,149.10 672.15,149.65C673.70,150.19 675.03,148.77 677.47,148.34C679.90,147.90 679.46,147.22 686.77,147.03C694.08,146.84 715.56,147.16 721.32,147.19" fill="none" stroke="#8cc7e0" stroke-width="1.1" stroke-opacity="0.8" stroke-linejoin="round"/>
<path d="M628.79,145.45C630.56,145.70 636.32,146.41 639.42,146.97C642.52,147.52 645.62,149.07 647.39,148.78C649.17,148.49 649.06,146.81 650.05,145.21C651.05,143.60 651.82,140.16 653.38,139.15C654.93,138.14 657.47,138.83 659.36,139.15C661.24,139.47 663.12,140.03 664.67,141.07C666.22,142.11 667.33,143.91 668.66,145.37C669.99,146.83 671.10,149.34 672.65,149.83C674.20,150.31 675.53,148.71 677.96,148.30C680.40,147.89 679.96,147.65 687.26,147.37C694.57,147.09 716.06,146.75 721.82,146.62" fill="none" stroke="#62c184" stroke-width="1.0" stroke-opacity="0.85" stroke-linejoin="round"/>
<path d="M628.35,146.52C630.12,146.45 635.88,145.75 638.98,146.12C642.08,146.49 645.18,148.97 646.95,148.72C648.72,148.48 648.61,146.29 649.61,144.64C650.61,142.99 651.38,139.96 652.93,138.82C654.48,137.68 657.03,137.46 658.91,137.78C660.80,138.10 662.68,139.57 664.23,140.72C665.78,141.88 666.89,143.29 668.22,144.70C669.55,146.11 670.65,148.65 672.20,149.20C673.75,149.74 675.08,148.41 677.52,147.98C679.96,147.56 679.51,146.85 686.82,146.66C694.13,146.47 715.62,146.81 721.38,146.84" fill="none" stroke="#62c184" stroke-width="1.0" stroke-opacity="0.85" stroke-linejoin="round"/>
<path d="M628.88,145.54C630.65,145.74 636.41,146.32 639.51,146.76C642.61,147.20 645.71,148.44 647.49,148.18C649.26,147.91 649.15,146.70 650.14,145.19C651.14,143.68 651.92,140.31 653.47,139.11C655.02,137.91 657.56,137.69 659.45,137.96C661.33,138.24 663.21,139.62 664.76,140.73C666.31,141.85 667.42,143.12 668.75,144.66C670.08,146.19 671.19,149.33 672.74,149.94C674.29,150.55 675.62,148.71 678.05,148.31C680.49,147.90 680.05,147.67 687.36,147.51C694.67,147.34 716.15,147.35 721.91,147.31" fill="none" stroke="#62c184" stroke-width="1.0" stroke-opacity="0.85" stroke-linejoin="round"/>
<path d="M628.82,145.45C630.59,145.71 636.35,146.47 639.45,147.02C642.55,147.57 645.65,149.01 647.42,148.74C649.20,148.47 649.08,146.95 650.08,145.39C651.08,143.84 651.85,140.54 653.40,139.42C654.95,138.29 657.50,138.37 659.38,138.63C661.27,138.89 663.15,139.86 664.70,140.98C666.25,142.09 667.36,143.98 668.69,145.31C670.02,146.64 671.12,148.36 672.67,148.95C674.22,149.54 675.55,149.19 677.99,148.84C680.43,148.48 679.98,147.11 687.29,146.83C694.60,146.55 716.09,147.12 721.85,147.18" fill="none" stroke="#62c184" stroke-width="1.0" stroke-opacity="0.85" stroke-linejoin="round"/>
<path d="M628.29,145.91C630.07,146.04 635.82,146.25 638.93,146.70C642.03,147.15 645.13,148.87 646.90,148.61C648.67,148.34 648.56,146.62 649.56,145.11C650.55,143.60 651.33,140.66 652.88,139.54C654.43,138.43 656.98,138.17 658.86,138.43C660.74,138.70 662.63,140.02 664.18,141.13C665.73,142.25 666.84,143.71 668.16,145.11C669.49,146.51 670.60,149.03 672.15,149.56C673.70,150.09 675.03,148.71 677.47,148.29C679.90,147.87 679.46,147.20 686.77,147.02C694.08,146.83 715.56,147.15 721.32,147.18" fill="none" stroke="#5cbf80" stroke-width="1.9" stroke-opacity="1.0" stroke-linejoin="round"/>
<rect x="420.80" y="183.50" width="124.20" height="84.70" rx="2" fill="#fff" stroke="#d2d2d2" stroke-width="0.8"/>
<rect x="420.20" y="264.70" width="125.40" height="6.90" fill="#8cbd8c" stroke="none" stroke-width="1" />
<text x="439.40" y="189.05" font-size="5.1" text-anchor="end" font-weight="normal" fill="#111" stroke="#111" stroke-width="0.128" >300</text>
<text x="439.40" y="204.95" font-size="5.1" text-anchor="end" font-weight="normal" fill="#111" stroke="#111" stroke-width="0.128" >200</text>
<text x="439.40" y="220.85" font-size="5.1" text-anchor="end" font-weight="normal" fill="#111" stroke="#111" stroke-width="0.128" >100</text>
<text x="439.40" y="236.75" font-size="5.1" text-anchor="end" font-weight="normal" fill="#111" stroke="#111" stroke-width="0.128" >0</text>
<text x="439.40" y="252.65" font-size="5.1" text-anchor="end" font-weight="normal" fill="#111" stroke="#111" stroke-width="0.128" >-100</text>
<text x="482.80" y="189.10" font-size="5.4" text-anchor="middle" font-weight="bold" fill="#222" stroke="#222" stroke-width="0.135" >Left Lateral</text>
<text x="441.30" y="257.60" font-size="5.1" text-anchor="middle" font-weight="normal" fill="#111" stroke="#111" stroke-width="0.128" >-140</text>
<text x="460.50" y="257.60" font-size="5.1" text-anchor="middle" font-weight="normal" fill="#111" stroke="#111" stroke-width="0.128" >0</text>
<text x="479.70" y="257.60" font-size="5.1" text-anchor="middle" font-weight="normal" fill="#111" stroke="#111" stroke-width="0.128" >140</text>
<text x="498.90" y="257.60" font-size="5.1" text-anchor="middle" font-weight="normal" fill="#111" stroke="#111" stroke-width="0.128" >280</text>
<text x="518.10" y="257.60" font-size="5.1" text-anchor="middle" font-weight="normal" fill="#111" stroke="#111" stroke-width="0.128" >420</text>
<text x="537.30" y="257.60" font-size="5.1" text-anchor="middle" font-weight="normal" fill="#111" stroke="#111" stroke-width="0.128" >560</text>
<text x="482.40" y="262.80" font-size="5.0" text-anchor="middle" font-weight="normal" fill="#111" stroke="#111" stroke-width="0.125" >Left Lateral (LL) ms</text>
<text x="425.50" y="223.20" font-size="5.2" text-anchor="middle" fill="#111" stroke="#111" stroke-width="0.13" transform="rotate(-90 425.50 223.20)">Head &amp; Eye Velocity</text>
<text x="425.50" y="270.50" font-size="5.1" fill="#111" stroke="#111" stroke-width="0.15">Mean Gains: 0.87<tspan dx="6">PR Score: NA</tspan></text>
<path d="M482.89,236.49C483.34,237.81 484.78,244.57 485.55,244.44C486.33,244.31 486.84,235.62 487.54,235.69C488.25,235.77 489.07,244.84 489.80,244.92C490.53,245.00 491.31,237.84 491.93,236.17C492.55,234.50 493.26,235.11 493.52,234.90" fill="none" stroke="#8dd3c3" stroke-width="0.6" stroke-opacity="0.8" stroke-linejoin="round"/>
<path d="M478.91,231.72C479.06,230.74 479.39,225.31 479.84,225.84C480.28,226.37 480.94,232.59 481.56,234.90C482.18,237.21 482.89,239.67 483.56,239.67C484.22,239.67 485.22,235.69 485.55,234.90" fill="none" stroke="#8dd3c3" stroke-width="0.6" stroke-opacity="0.8" stroke-linejoin="round"/>
<path d="M493.52,233.31C494.63,232.99 497.96,231.61 500.17,231.40C502.38,231.19 504.60,231.59 506.81,232.04C509.03,232.49 512.35,233.76 513.46,234.11" fill="none" stroke="#8dd3c3" stroke-width="0.6" stroke-opacity="0.8" stroke-linejoin="round"/>
<path d="M512.80,235.69C513.13,237.87 514.12,248.73 514.79,248.73C515.45,248.73 516.12,238.00 516.78,235.69C517.45,233.39 518.11,234.90 518.78,234.90C519.44,234.90 520.15,233.60 520.77,235.69C521.39,237.79 521.94,247.46 522.50,247.46C523.05,247.46 523.16,237.66 524.09,235.69C525.02,233.73 527.08,233.28 528.08,235.69C529.08,238.11 529.41,250.03 530.07,250.16C530.74,250.30 531.73,238.77 532.07,236.49" fill="none" stroke="#8dd3c3" stroke-width="0.6" stroke-opacity="0.8" stroke-linejoin="round"/>
<path d="M513.46,234.90C513.77,236.75 514.70,246.03 515.32,246.03C515.94,246.03 516.12,236.62 517.18,234.90C518.24,233.18 520.73,234.10 521.70,235.69C522.67,237.28 522.52,244.57 523.03,244.44C523.54,244.31 524.47,236.49 524.76,234.90" fill="none" stroke="#8dd3c3" stroke-width="0.6" stroke-opacity="0.8" stroke-linejoin="round"/>
<path d="M508.41,235.69C508.63,237.42 509.34,243.62 509.74,246.03C510.14,248.44 510.45,250.43 510.80,250.16C511.16,249.90 511.53,246.85 511.87,244.44C512.20,242.03 512.64,237.15 512.80,235.69" fill="none" stroke="#c9572e" stroke-width="0.9" stroke-opacity="0.85" stroke-linejoin="round"/>
<path d="M508.94,235.69C509.21,237.81 510.00,248.42 510.54,248.42C511.07,248.42 511.87,237.81 512.13,235.69" fill="none" stroke="#eda464" stroke-width="0.7" stroke-opacity="0.8" stroke-linejoin="round"/>
<path d="M440.50,234.93C443.16,234.93 452.90,236.79 456.45,234.94C459.99,233.10 460.21,227.03 461.76,223.86C463.31,220.69 464.64,217.02 465.75,215.92C466.86,214.82 467.08,215.22 468.41,217.25C469.74,219.29 471.73,224.83 473.73,228.12C475.72,231.41 477.27,235.47 480.37,236.99C483.47,238.52 483.47,237.53 492.33,237.27C501.19,237.02 526.66,235.75 533.53,235.45" fill="none" stroke="#8fd6c0" stroke-width="0.6" stroke-opacity="0.85" stroke-linejoin="round"/>
<path d="M441.52,234.24C444.18,234.40 453.93,236.58 457.47,235.19C461.02,233.80 461.24,228.66 462.79,225.89C464.34,223.12 465.67,219.41 466.77,218.56C467.88,217.70 468.10,219.06 469.43,220.74C470.76,222.43 472.76,225.94 474.75,228.64C476.74,231.33 478.29,235.82 481.39,236.91C484.49,238.01 484.49,235.42 493.35,235.23C502.21,235.04 527.69,235.70 534.55,235.79" fill="none" stroke="#9ccfe6" stroke-width="0.6" stroke-opacity="0.85" stroke-linejoin="round"/>
<path d="M441.45,235.28C444.11,235.25 453.85,236.38 457.40,235.09C460.94,233.81 461.16,229.82 462.71,227.59C464.26,225.35 465.59,222.32 466.70,221.68C467.81,221.04 468.03,222.26 469.36,223.73C470.69,225.21 472.68,228.36 474.67,230.55C476.67,232.75 478.22,235.97 481.32,236.93C484.42,237.88 484.42,236.42 493.28,236.28C502.14,236.14 527.61,236.13 534.48,236.09" fill="none" stroke="#7ccb9c" stroke-width="0.6" stroke-opacity="0.85" stroke-linejoin="round"/>
<path d="M440.28,235.16C442.94,235.12 452.69,236.16 456.23,234.95C459.78,233.75 460.00,230.30 461.55,227.93C463.10,225.57 464.43,221.49 465.54,220.77C466.64,220.05 466.86,221.93 468.19,223.61C469.52,225.28 471.52,228.57 473.51,230.81C475.50,233.04 477.05,236.25 480.15,237.01C483.26,237.77 483.26,235.54 492.12,235.37C500.98,235.19 526.45,235.85 533.31,235.95" fill="none" stroke="#a6dccb" stroke-width="0.6" stroke-opacity="0.85" stroke-linejoin="round"/>
<path d="M442.30,234.81C444.95,234.88 454.70,236.44 458.24,235.28C461.79,234.12 462.01,230.19 463.56,227.85C465.11,225.51 466.44,222.03 467.55,221.24C468.66,220.45 468.88,221.54 470.21,223.11C471.53,224.68 473.53,228.50 475.52,230.67C477.52,232.83 479.07,235.15 482.17,236.08C485.27,237.01 485.27,236.21 494.13,236.25C502.99,236.29 528.46,236.28 535.33,236.29" fill="none" stroke="#8fd6c0" stroke-width="0.6" stroke-opacity="0.85" stroke-linejoin="round"/>
<path d="M441.77,235.04C444.42,235.00 454.17,237.02 457.71,234.82C461.26,232.61 461.48,225.68 463.03,221.81C464.58,217.95 465.91,212.99 467.02,211.62C468.13,210.24 468.35,210.84 469.68,213.57C471.00,216.30 473.00,224.14 474.99,228.00C476.99,231.85 478.54,235.10 481.64,236.71C484.74,238.32 484.74,237.65 493.60,237.66C502.46,237.67 527.93,236.93 534.80,236.78" fill="none" stroke="#9ccfe6" stroke-width="0.6" stroke-opacity="0.85" stroke-linejoin="round"/>
<path d="M441.15,234.04C443.81,234.48 453.56,238.47 457.10,236.68C460.65,234.89 460.87,227.57 462.42,223.29C463.97,219.01 465.30,212.33 466.40,211.01C467.51,209.70 467.73,212.61 469.06,215.41C470.39,218.21 472.39,224.34 474.38,227.81C476.37,231.28 477.92,234.96 481.02,236.22C484.12,237.48 484.12,235.54 492.98,235.40C501.84,235.25 527.32,235.37 534.18,235.36" fill="none" stroke="#7ccb9c" stroke-width="0.6" stroke-opacity="0.85" stroke-linejoin="round"/>
<path d="M442.38,235.54C445.04,235.59 454.79,237.20 458.33,235.85C461.87,234.49 462.09,230.20 463.65,227.39C465.20,224.59 466.52,220.14 467.63,219.00C468.74,217.87 468.96,218.75 470.29,220.60C471.62,222.45 473.61,227.57 475.61,230.10C477.60,232.63 479.15,234.93 482.25,235.80C485.35,236.67 485.35,235.22 494.21,235.33C503.07,235.43 528.54,236.25 535.41,236.43" fill="none" stroke="#a6dccb" stroke-width="0.6" stroke-opacity="0.85" stroke-linejoin="round"/>
<path d="M440.41,235.56C443.07,235.57 452.82,237.17 456.36,235.58C459.90,233.99 460.13,228.86 461.68,226.04C463.23,223.22 464.56,219.50 465.66,218.68C466.77,217.87 466.99,219.27 468.32,221.15C469.65,223.04 471.64,227.56 473.64,230.00C475.63,232.44 477.18,234.84 480.28,235.80C483.38,236.76 483.38,235.82 492.24,235.77C501.10,235.73 526.58,235.55 533.44,235.50" fill="none" stroke="#8fd6c0" stroke-width="0.6" stroke-opacity="0.85" stroke-linejoin="round"/>
<path d="M440.58,235.77C443.24,235.58 452.98,236.57 456.53,234.67C460.07,232.77 460.29,227.28 461.84,224.35C463.39,221.43 464.72,218.03 465.83,217.14C466.94,216.25 467.16,217.02 468.49,219.01C469.82,220.99 471.81,225.93 473.80,229.05C475.80,232.17 477.35,236.54 480.45,237.71C483.55,238.87 483.55,236.42 492.41,236.02C501.27,235.62 526.74,235.44 533.61,235.32" fill="none" stroke="#9ccfe6" stroke-width="0.6" stroke-opacity="0.85" stroke-linejoin="round"/>
<path d="M441.09,233.99C443.75,234.11 453.49,236.21 457.04,234.73C460.58,233.24 460.80,228.26 462.35,225.08C463.90,221.90 465.23,216.59 466.34,215.65C467.45,214.70 467.67,217.25 469.00,219.40C470.33,221.54 472.32,225.50 474.31,228.52C476.31,231.53 477.86,236.22 480.96,237.48C484.06,238.74 484.06,236.24 492.92,236.09C501.78,235.95 527.25,236.53 534.12,236.62" fill="none" stroke="#7ccb9c" stroke-width="0.6" stroke-opacity="0.85" stroke-linejoin="round"/>
<path d="M440.26,235.58C442.92,235.55 452.66,236.75 456.21,235.40C459.75,234.05 459.97,229.91 461.52,227.47C463.07,225.03 464.40,221.62 465.51,220.76C466.62,219.91 466.84,220.80 468.17,222.32C469.50,223.83 471.49,227.59 473.48,229.86C475.48,232.12 477.03,234.98 480.13,235.89C483.23,236.80 483.23,235.40 492.09,235.33C500.95,235.25 526.42,235.42 533.29,235.44" fill="none" stroke="#a6dccb" stroke-width="0.6" stroke-opacity="0.85" stroke-linejoin="round"/>
<path d="M440.63,234.90C443.29,234.98 453.03,237.03 456.58,235.39C460.12,233.75 460.34,228.21 461.89,225.07C463.45,221.93 464.77,217.65 465.88,216.56C466.99,215.47 467.21,216.56 468.54,218.52C469.87,220.49 471.86,225.29 473.86,228.35C475.85,231.41 477.40,235.56 480.50,236.87C483.60,238.18 483.60,236.32 492.46,236.21C501.32,236.10 526.79,236.21 533.66,236.21" fill="none" stroke="#8cc7e0" stroke-width="1.1" stroke-opacity="0.8" stroke-linejoin="round"/>
<path d="M441.60,234.91C444.26,234.90 454.00,236.41 457.55,234.86C461.09,233.30 461.31,228.51 462.86,225.56C464.41,222.61 465.74,218.16 466.85,217.18C467.96,216.20 468.18,217.77 469.51,219.70C470.84,221.62 472.83,225.96 474.82,228.73C476.82,231.49 478.37,234.99 481.47,236.28C484.57,237.57 484.57,236.46 493.43,236.49C502.29,236.52 527.76,236.46 534.63,236.45" fill="none" stroke="#62c184" stroke-width="1.0" stroke-opacity="0.85" stroke-linejoin="round"/>
<path d="M441.63,235.42C444.29,235.37 454.04,236.82 457.58,235.08C461.12,233.35 461.35,228.01 462.90,225.03C464.45,222.04 465.78,218.09 466.88,217.15C467.99,216.21 468.21,217.57 469.54,219.40C470.87,221.23 472.86,225.19 474.86,228.12C476.85,231.05 478.40,235.65 481.50,236.99C484.60,238.33 484.60,236.37 493.46,236.13C502.32,235.89 527.80,235.64 534.66,235.54" fill="none" stroke="#62c184" stroke-width="1.0" stroke-opacity="0.85" stroke-linejoin="round"/>
<path d="M441.96,235.48C444.62,235.45 454.36,236.86 457.91,235.32C461.45,233.77 461.67,229.21 463.22,226.21C464.77,223.20 466.10,218.43 467.21,217.29C468.32,216.15 468.54,217.44 469.87,219.34C471.20,221.25 473.19,225.77 475.18,228.73C477.18,231.69 478.73,235.89 481.83,237.09C484.93,238.29 484.93,236.02 493.79,235.94C502.65,235.85 528.12,236.47 534.99,236.57" fill="none" stroke="#62c184" stroke-width="1.0" stroke-opacity="0.85" stroke-linejoin="round"/>
<path d="M441.73,234.81C444.39,234.97 454.13,237.46 457.68,235.76C461.22,234.06 461.44,227.92 462.99,224.61C464.54,221.31 465.87,216.95 466.98,215.92C468.09,214.90 468.31,216.47 469.64,218.46C470.97,220.45 472.96,224.77 474.95,227.86C476.95,230.95 478.50,235.52 481.60,237.00C484.70,238.47 484.70,236.88 493.56,236.70C502.42,236.52 527.89,236.03 534.76,235.89" fill="none" stroke="#62c184" stroke-width="1.0" stroke-opacity="0.85" stroke-linejoin="round"/>
<path d="M441.69,234.90C444.35,234.98 454.10,236.97 457.64,235.38C461.19,233.79 461.41,228.41 462.96,225.36C464.51,222.31 465.84,218.15 466.94,217.09C468.05,216.03 468.27,217.09 469.60,219.00C470.93,220.91 472.93,225.57 474.92,228.54C476.91,231.51 478.46,235.54 481.56,236.81C484.67,238.08 484.66,236.28 493.52,236.17C502.38,236.07 527.86,236.17 534.72,236.17" fill="none" stroke="#5cbf80" stroke-width="1.9" stroke-opacity="1.0" stroke-linejoin="round"/>
<rect x="670.40" y="183.50" width="124.00" height="84.70" rx="2" fill="#fff" stroke="#d2d2d2" stroke-width="0.8"/>
<rect x="669.80" y="264.70" width="125.20" height="6.90" fill="#f4a582" stroke="none" stroke-width="1" />
<text x="689.00" y="189.05" font-size="5.1" text-anchor="end" font-weight="normal" fill="#111" stroke="#111" stroke-width="0.128" >300</text>
<text x="689.00" y="204.95" font-size="5.1" text-anchor="end" font-weight="normal" fill="#111" stroke="#111" stroke-width="0.128" >200</text>
<text x="689.00" y="220.85" font-size="5.1" text-anchor="end" font-weight="normal" fill="#111" stroke="#111" stroke-width="0.128" >100</text>
<text x="689.00" y="236.75" font-size="5.1" text-anchor="end" font-weight="normal" fill="#111" stroke="#111" stroke-width="0.128" >0</text>
<text x="689.00" y="252.65" font-size="5.1" text-anchor="end" font-weight="normal" fill="#111" stroke="#111" stroke-width="0.128" >-100</text>
<text x="732.40" y="189.10" font-size="5.4" text-anchor="middle" font-weight="bold" fill="#222" stroke="#222" stroke-width="0.135" >Right Lateral</text>
<text x="690.90" y="257.60" font-size="5.1" text-anchor="middle" font-weight="normal" fill="#111" stroke="#111" stroke-width="0.128" >-140</text>
<text x="710.10" y="257.60" font-size="5.1" text-anchor="middle" font-weight="normal" fill="#111" stroke="#111" stroke-width="0.128" >0</text>
<text x="729.30" y="257.60" font-size="5.1" text-anchor="middle" font-weight="normal" fill="#111" stroke="#111" stroke-width="0.128" >140</text>
<text x="748.50" y="257.60" font-size="5.1" text-anchor="middle" font-weight="normal" fill="#111" stroke="#111" stroke-width="0.128" >280</text>
<text x="767.70" y="257.60" font-size="5.1" text-anchor="middle" font-weight="normal" fill="#111" stroke="#111" stroke-width="0.128" >420</text>
<text x="786.90" y="257.60" font-size="5.1" text-anchor="middle" font-weight="normal" fill="#111" stroke="#111" stroke-width="0.128" >560</text>
<text x="732.00" y="262.80" font-size="5.0" text-anchor="middle" font-weight="normal" fill="#111" stroke="#111" stroke-width="0.125" >Right Lateral (RL) ms</text>
<text x="675.10" y="223.20" font-size="5.2" text-anchor="middle" fill="#111" stroke="#111" stroke-width="0.13" transform="rotate(-90 675.10 223.20)">Head &amp; Eye Velocity</text>
<text x="675.10" y="270.50" font-size="5.1" fill="#111" stroke="#111" stroke-width="0.15">Mean Gains: 0.37<tspan dx="6">PR Score: 25</tspan></text>
<path d="M723.19,233.31C723.48,227.56 724.36,198.54 724.92,198.81C725.47,199.07 726.03,232.86 726.51,234.90C727.00,236.94 727.42,218.05 727.84,211.05C728.26,204.05 728.59,189.48 729.04,192.92C729.48,196.37 730.12,230.85 730.50,231.72C730.88,232.59 730.92,197.64 731.30,198.17C731.67,198.70 732.27,232.57 732.76,234.90C733.25,237.23 733.82,212.16 734.22,212.16C734.62,212.16 735.00,231.11 735.15,234.90" fill="none" stroke="#c9572e" stroke-width="0.6" stroke-opacity="0.75" stroke-linejoin="round"/>
<path d="M723.85,234.90C724.14,229.60 725.03,203.89 725.58,203.10C726.14,202.31 726.60,231.45 727.18,230.13C727.75,228.81 728.55,194.36 729.04,195.15C729.52,195.94 729.64,233.58 730.10,234.90C730.57,236.22 731.25,203.37 731.83,203.10C732.40,202.83 733.00,227.75 733.56,233.31C734.11,238.88 734.89,235.96 735.15,236.49" fill="none" stroke="#c9572e" stroke-width="0.6" stroke-opacity="0.75" stroke-linejoin="round"/>
<path d="M724.52,231.72C724.78,227.48 725.49,207.34 726.11,206.28C726.73,205.22 727.62,226.95 728.24,225.36C728.86,223.77 729.17,196.21 729.83,196.74C730.50,197.27 731.56,225.36 732.23,228.54C732.89,231.72 733.22,214.76 733.82,215.82C734.42,216.88 735.48,231.72 735.82,234.90" fill="none" stroke="#c9572e" stroke-width="0.6" stroke-opacity="0.75" stroke-linejoin="round"/>
<path d="M749.77,234.90C750.04,231.11 750.88,212.16 751.36,212.16C751.85,212.16 752.21,234.56 752.69,234.90C753.18,235.24 753.80,211.63 754.29,214.23C754.78,216.83 755.15,249.24 755.62,250.48C756.08,251.73 756.50,224.30 757.08,221.70C757.66,219.11 758.25,236.15 759.07,234.90C759.89,233.65 761.22,214.76 762.00,214.23C762.77,213.70 763.13,227.64 763.72,231.72C764.32,235.80 765.14,238.19 765.59,238.72C766.03,239.25 766.25,235.54 766.38,234.90" fill="none" stroke="#c9572e" stroke-width="0.6" stroke-opacity="0.75" stroke-linejoin="round"/>
<path d="M750.43,234.11C750.72,231.32 751.61,216.75 752.16,217.41C752.72,218.07 753.14,233.05 753.76,238.08C754.38,243.12 755.22,249.74 755.88,247.62C756.55,245.50 757.10,226.69 757.74,225.36C758.39,224.04 758.90,240.73 759.74,239.67C760.58,238.61 761.97,219.53 762.79,219.00C763.61,218.47 764.34,233.58 764.65,236.49" fill="none" stroke="#c9572e" stroke-width="0.6" stroke-opacity="0.75" stroke-linejoin="round"/>
<path d="M692.17,234.05C694.83,233.95 704.79,235.38 708.12,233.49C711.44,231.59 710.77,226.05 712.10,222.69C713.43,219.34 714.76,214.14 716.09,213.33C717.42,212.52 718.75,215.35 720.08,217.82C721.41,220.29 722.40,224.81 724.06,228.16C725.73,231.51 727.83,236.58 730.04,237.92C732.26,239.25 728.16,236.45 737.35,236.16C746.55,235.88 777.22,236.19 785.20,236.20" fill="none" stroke="#f2b886" stroke-width="0.7" stroke-opacity="0.9" stroke-linejoin="round"/>
<path d="M690.09,235.83C692.75,235.40 702.72,235.61 706.04,233.21C709.36,230.82 708.70,224.87 710.03,221.45C711.36,218.03 712.69,213.38 714.01,212.69C715.34,212.01 716.67,214.82 718.00,217.35C719.33,219.87 720.33,224.34 721.99,227.84C723.65,231.34 725.75,237.16 727.97,238.35C730.18,239.53 726.09,235.15 735.28,234.96C744.47,234.77 775.15,236.84 783.12,237.22" fill="none" stroke="#f2b886" stroke-width="0.7" stroke-opacity="0.9" stroke-linejoin="round"/>
<path d="M692.49,233.77C695.15,233.65 705.12,234.71 708.44,233.02C711.76,231.33 711.10,226.83 712.43,223.63C713.76,220.43 715.09,214.92 716.42,213.82C717.75,212.73 719.07,214.81 720.40,217.07C721.73,219.32 722.73,223.84 724.39,227.36C726.05,230.88 728.16,236.73 730.37,238.19C732.59,239.65 728.49,236.53 737.68,236.15C746.87,235.76 777.55,235.92 785.52,235.87" fill="none" stroke="#f2b886" stroke-width="0.7" stroke-opacity="0.9" stroke-linejoin="round"/>
<path d="M690.39,235.55C693.05,235.30 703.02,236.14 706.34,234.01C709.67,231.88 709.00,226.38 710.33,222.78C711.66,219.18 712.99,213.29 714.32,212.40C715.65,211.52 716.97,214.72 718.30,217.48C719.63,220.24 720.63,225.26 722.29,228.98C723.95,232.71 726.06,238.87 728.27,239.84C730.49,240.82 726.39,235.35 735.58,234.84C744.77,234.32 775.45,236.43 783.42,236.74" fill="none" stroke="#f2b886" stroke-width="0.7" stroke-opacity="0.9" stroke-linejoin="round"/>
<path d="M690.39,235.52C693.05,235.45 703.01,237.11 706.34,235.10C709.66,233.08 709.00,226.83 710.32,223.44C711.65,220.06 712.98,215.39 714.31,214.79C715.64,214.19 716.97,217.53 718.30,219.82C719.63,222.12 720.62,225.61 722.29,228.55C723.95,231.48 726.05,236.37 728.27,237.43C730.48,238.50 726.38,235.26 735.58,234.93C744.77,234.60 775.45,235.36 783.42,235.45" fill="none" stroke="#f2b886" stroke-width="0.7" stroke-opacity="0.9" stroke-linejoin="round"/>
<path d="M691.52,234.63C694.18,234.46 704.15,235.59 707.47,233.66C710.79,231.73 710.13,226.35 711.46,223.06C712.78,219.77 714.11,214.61 715.44,213.93C716.77,213.25 718.10,216.70 719.43,218.99C720.76,221.28 721.76,224.28 723.42,227.67C725.08,231.05 727.18,237.97 729.40,239.31C731.61,240.64 727.51,236.39 736.71,235.68C745.90,234.96 776.58,235.13 784.55,235.03" fill="none" stroke="#f2b886" stroke-width="0.7" stroke-opacity="0.9" stroke-linejoin="round"/>
<path d="M692.02,234.07C694.68,233.91 704.64,235.32 707.97,233.11C711.29,230.90 710.62,224.61 711.95,220.82C713.28,217.02 714.61,210.98 715.94,210.32C717.27,209.67 718.60,214.19 719.93,216.89C721.26,219.58 722.25,222.77 723.91,226.49C725.58,230.22 727.68,237.80 729.90,239.22C732.11,240.65 728.01,235.47 737.20,235.05C746.40,234.62 777.07,236.40 785.05,236.67" fill="none" stroke="#f2b886" stroke-width="0.7" stroke-opacity="0.9" stroke-linejoin="round"/>
<path d="M690.65,235.32C693.30,235.27 703.27,237.13 706.59,234.99C709.92,232.85 709.25,225.92 710.58,222.48C711.91,219.05 713.24,215.09 714.57,214.38C715.90,213.68 717.23,215.90 718.56,218.24C719.88,220.58 720.88,224.89 722.54,228.44C724.20,232.00 726.31,238.38 728.52,239.58C730.74,240.78 726.64,236.03 735.83,235.64C745.02,235.24 775.70,236.96 783.68,237.22" fill="none" stroke="#f2b886" stroke-width="0.7" stroke-opacity="0.9" stroke-linejoin="round"/>
<path d="M691.29,234.90C693.95,234.77 703.92,236.23 707.24,234.11C710.56,231.99 709.90,225.84 711.23,222.18C712.56,218.52 713.89,212.96 715.22,212.16C716.55,211.37 717.87,214.81 719.20,217.41C720.53,220.01 721.53,224.19 723.19,227.75C724.85,231.30 726.96,237.39 729.17,238.72C731.39,240.04 727.29,236.12 736.48,235.69C745.67,235.27 776.35,236.09 784.32,236.17" fill="none" stroke="#eda464" stroke-width="1.3" stroke-opacity="1.0" stroke-linejoin="round"/>
<path d="M690.69,235.19C693.35,235.20 702.87,235.87 706.64,235.22C710.40,234.57 711.29,232.35 713.28,231.30C715.28,230.26 717.05,229.12 718.60,228.94C720.15,228.77 720.82,229.02 722.59,230.24C724.36,231.46 725.91,235.42 729.23,236.26C732.55,237.09 733.44,235.38 742.52,235.26C751.60,235.14 776.85,235.49 783.72,235.54" fill="none" stroke="#8fd6c0" stroke-width="0.6" stroke-opacity="0.85" stroke-linejoin="round"/>
<path d="M689.72,235.48C692.37,235.43 701.90,235.86 705.66,235.19C709.43,234.51 710.32,232.65 712.31,231.42C714.30,230.19 716.07,228.40 717.63,227.80C719.18,227.20 719.84,226.51 721.61,227.82C723.38,229.13 724.93,234.26 728.26,235.66C731.58,237.06 732.47,236.24 741.55,236.23C750.63,236.22 775.88,235.69 782.75,235.59" fill="none" stroke="#9ccfe6" stroke-width="0.6" stroke-opacity="0.85" stroke-linejoin="round"/>
<path d="M689.91,235.14C692.57,234.93 702.10,234.66 705.86,233.87C709.63,233.08 710.51,231.58 712.51,230.41C714.50,229.24 716.27,227.13 717.82,226.86C719.37,226.58 720.04,227.04 721.81,228.76C723.58,230.47 725.13,235.95 728.46,237.15C731.78,238.36 732.66,235.94 741.75,235.99C750.83,236.03 776.08,237.18 782.94,237.42" fill="none" stroke="#7ccb9c" stroke-width="0.6" stroke-opacity="0.85" stroke-linejoin="round"/>
<path d="M689.81,234.53C692.47,234.41 701.99,234.47 705.76,233.80C709.52,233.12 710.41,231.49 712.40,230.47C714.39,229.46 716.17,227.86 717.72,227.70C719.27,227.54 719.93,228.06 721.70,229.52C723.48,230.97 725.03,235.41 728.35,236.43C731.67,237.44 732.56,235.68 741.64,235.60C750.72,235.51 775.97,235.87 782.84,235.92" fill="none" stroke="#a6dccb" stroke-width="0.6" stroke-opacity="0.85" stroke-linejoin="round"/>
<path d="M690.90,234.17C693.56,234.24 703.08,235.22 706.85,234.61C710.61,234.00 711.50,231.77 713.49,230.50C715.49,229.22 717.26,227.52 718.81,226.95C720.36,226.39 721.02,225.51 722.80,227.11C724.57,228.72 726.12,235.22 729.44,236.57C732.76,237.91 733.65,235.20 742.73,235.18C751.81,235.16 777.06,236.23 783.93,236.44" fill="none" stroke="#8fd6c0" stroke-width="0.6" stroke-opacity="0.85" stroke-linejoin="round"/>
<path d="M690.33,235.56C692.99,235.33 702.51,234.83 706.28,234.17C710.05,233.51 710.93,232.35 712.92,231.59C714.92,230.83 716.69,229.81 718.24,229.61C719.79,229.42 720.46,229.34 722.23,230.42C724.00,231.51 725.55,235.36 728.87,236.10C732.20,236.85 733.08,234.98 742.16,234.91C751.24,234.85 776.50,235.57 783.36,235.70" fill="none" stroke="#9ccfe6" stroke-width="0.6" stroke-opacity="0.85" stroke-linejoin="round"/>
<path d="M692.15,234.97C694.81,234.96 704.34,235.47 708.10,234.92C711.87,234.37 712.75,232.81 714.75,231.69C716.74,230.58 718.51,228.93 720.06,228.23C721.61,227.54 722.28,226.24 724.05,227.51C725.82,228.78 727.37,234.35 730.70,235.84C734.02,237.34 734.90,236.21 743.99,236.50C753.07,236.79 778.32,237.39 785.18,237.57" fill="none" stroke="#7ccb9c" stroke-width="0.6" stroke-opacity="0.85" stroke-linejoin="round"/>
<path d="M690.72,234.33C693.38,234.34 702.90,235.01 706.67,234.40C710.43,233.78 711.32,232.07 713.31,230.65C715.31,229.22 717.08,226.34 718.63,225.86C720.18,225.38 720.84,225.80 722.61,227.77C724.39,229.75 725.94,236.33 729.26,237.70C732.58,239.07 733.47,236.12 742.55,235.98C751.63,235.83 776.88,236.69 783.75,236.83" fill="none" stroke="#a6dccb" stroke-width="0.6" stroke-opacity="0.85" stroke-linejoin="round"/>
<path d="M690.47,233.90C693.13,234.05 702.66,235.17 706.42,234.75C710.19,234.33 711.07,232.62 713.07,231.37C715.06,230.12 716.83,227.78 718.38,227.24C719.93,226.71 720.60,226.49 722.37,228.13C724.14,229.77 725.69,235.79 729.01,237.08C732.34,238.37 733.22,235.93 742.30,235.86C751.39,235.78 776.64,236.50 783.50,236.63" fill="none" stroke="#8fd6c0" stroke-width="0.6" stroke-opacity="0.85" stroke-linejoin="round"/>
<path d="M690.82,234.90C693.48,234.89 703.00,235.25 706.77,234.87C710.53,234.49 711.42,233.60 713.41,232.62C715.41,231.64 717.18,229.35 718.73,228.99C720.28,228.63 720.94,229.34 722.72,230.47C724.49,231.59 726.04,234.78 729.36,235.74C732.68,236.71 733.57,236.14 742.65,236.27C751.73,236.40 776.98,236.47 783.85,236.51" fill="none" stroke="#9ccfe6" stroke-width="0.6" stroke-opacity="0.85" stroke-linejoin="round"/>
<path d="M691.29,234.90C693.95,234.82 703.48,235.09 707.24,234.41C711.01,233.73 711.89,231.95 713.89,230.81C715.88,229.66 717.65,227.94 719.20,227.53C720.75,227.12 721.42,226.85 723.19,228.35C724.96,229.85 726.51,235.28 729.83,236.54C733.16,237.79 734.04,235.88 743.12,235.88C752.21,235.88 777.46,236.43 784.32,236.54" fill="none" stroke="#8cc7e0" stroke-width="1.1" stroke-opacity="0.8" stroke-linejoin="round"/>
<path d="M690.91,234.45C693.57,234.37 703.09,234.57 706.86,233.96C710.62,233.35 711.51,231.80 713.50,230.79C715.49,229.79 717.27,228.23 718.82,227.91C720.37,227.60 721.03,227.56 722.80,228.89C724.58,230.23 726.13,234.78 729.45,235.94C732.77,237.11 733.66,235.70 742.74,235.88C751.82,236.06 777.07,236.85 783.94,237.04" fill="none" stroke="#62c184" stroke-width="1.0" stroke-opacity="0.85" stroke-linejoin="round"/>
<path d="M690.89,234.65C693.55,234.50 703.08,234.38 706.84,233.75C710.61,233.12 711.49,231.83 713.49,230.88C715.48,229.93 717.25,228.50 718.80,228.04C720.35,227.58 721.02,226.72 722.79,228.10C724.56,229.49 726.11,235.08 729.44,236.34C732.76,237.60 733.64,235.70 742.73,235.67C751.81,235.63 777.06,236.06 783.92,236.14" fill="none" stroke="#62c184" stroke-width="1.0" stroke-opacity="0.85" stroke-linejoin="round"/>
<path d="M690.70,235.41C693.36,235.18 702.88,234.75 706.65,234.06C710.42,233.38 711.30,232.30 713.30,231.32C715.29,230.35 717.06,228.69 718.61,228.22C720.16,227.76 720.83,227.10 722.60,228.55C724.37,229.99 725.92,235.68 729.24,236.91C732.57,238.14 733.45,235.90 742.53,235.92C751.61,235.93 776.87,236.84 783.73,237.02" fill="none" stroke="#62c184" stroke-width="1.0" stroke-opacity="0.85" stroke-linejoin="round"/>
<path d="M690.66,235.40C693.32,235.24 702.84,235.11 706.61,234.43C710.37,233.75 711.26,232.47 713.25,231.31C715.25,230.15 717.02,227.85 718.57,227.46C720.12,227.07 720.78,227.49 722.56,228.99C724.33,230.49 725.88,235.42 729.20,236.46C732.52,237.50 733.41,235.18 742.49,235.24C751.57,235.31 776.82,236.59 783.69,236.86" fill="none" stroke="#62c184" stroke-width="1.0" stroke-opacity="0.85" stroke-linejoin="round"/>
<path d="M691.29,234.90C693.95,234.82 703.48,235.09 707.24,234.42C711.01,233.76 711.89,232.04 713.89,230.93C715.88,229.81 717.65,228.14 719.20,227.75C720.75,227.35 721.42,227.08 723.19,228.54C724.96,230.00 726.51,235.27 729.83,236.49C733.16,237.71 734.04,235.85 743.12,235.85C752.21,235.85 777.46,236.38 784.32,236.49" fill="none" stroke="#5cbf80" stroke-width="1.9" stroke-opacity="1.0" stroke-linejoin="round"/>
<rect x="482.70" y="273.50" width="124.30" height="84.70" rx="2" fill="#fff" stroke="#d2d2d2" stroke-width="0.8"/>
<rect x="482.10" y="354.70" width="125.50" height="6.90" fill="#8cbd8c" stroke="none" stroke-width="1" />
<text x="501.30" y="279.05" font-size="5.1" text-anchor="end" font-weight="normal" fill="#111" stroke="#111" stroke-width="0.128" >300</text>
<text x="501.30" y="294.95" font-size="5.1" text-anchor="end" font-weight="normal" fill="#111" stroke="#111" stroke-width="0.128" >200</text>
<text x="501.30" y="310.85" font-size="5.1" text-anchor="end" font-weight="normal" fill="#111" stroke="#111" stroke-width="0.128" >100</text>
<text x="501.30" y="326.75" font-size="5.1" text-anchor="end" font-weight="normal" fill="#111" stroke="#111" stroke-width="0.128" >0</text>
<text x="501.30" y="342.65" font-size="5.1" text-anchor="end" font-weight="normal" fill="#111" stroke="#111" stroke-width="0.128" >-100</text>
<text x="544.70" y="279.10" font-size="5.4" text-anchor="middle" font-weight="bold" fill="#222" stroke="#222" stroke-width="0.135" >Left Posterior</text>
<text x="503.20" y="347.60" font-size="5.1" text-anchor="middle" font-weight="normal" fill="#111" stroke="#111" stroke-width="0.128" >-140</text>
<text x="522.40" y="347.60" font-size="5.1" text-anchor="middle" font-weight="normal" fill="#111" stroke="#111" stroke-width="0.128" >0</text>
<text x="541.60" y="347.60" font-size="5.1" text-anchor="middle" font-weight="normal" fill="#111" stroke="#111" stroke-width="0.128" >140</text>
<text x="560.80" y="347.60" font-size="5.1" text-anchor="middle" font-weight="normal" fill="#111" stroke="#111" stroke-width="0.128" >280</text>
<text x="580.00" y="347.60" font-size="5.1" text-anchor="middle" font-weight="normal" fill="#111" stroke="#111" stroke-width="0.128" >420</text>
<text x="599.20" y="347.60" font-size="5.1" text-anchor="middle" font-weight="normal" fill="#111" stroke="#111" stroke-width="0.128" >560</text>
<text x="544.30" y="352.80" font-size="5.0" text-anchor="middle" font-weight="normal" fill="#111" stroke="#111" stroke-width="0.125" >Left Posterior (LP) ms</text>
<text x="487.40" y="313.20" font-size="5.2" text-anchor="middle" fill="#111" stroke="#111" stroke-width="0.13" transform="rotate(-90 487.40 313.20)">Head &amp; Eye Velocity</text>
<text x="487.40" y="360.50" font-size="5.1" fill="#111" stroke="#111" stroke-width="0.15">Mean Gains: 1<tspan dx="6">PR Score: NA</tspan></text>
<path d="M544.79,326.49C545.13,327.42 546.12,331.92 546.79,332.05C547.45,332.19 548.12,327.15 548.78,327.28C549.44,327.42 550.11,332.72 550.77,332.85C551.44,332.98 552.10,329.27 552.77,328.08C553.43,326.89 554.43,326.09 554.76,325.69" fill="none" stroke="#8dd3c3" stroke-width="0.6" stroke-opacity="0.8" stroke-linejoin="round"/>
<path d="M579.35,324.90C579.57,324.42 580.23,322.04 580.68,322.04C581.12,322.04 580.45,324.42 582.00,324.90C583.56,325.38 588.43,325.30 589.98,324.90C591.53,324.50 590.87,322.51 591.31,322.51C591.75,322.51 592.42,324.50 592.64,324.90" fill="none" stroke="#8dd3c3" stroke-width="0.6" stroke-opacity="0.8" stroke-linejoin="round"/>
<path d="M503.49,325.04C505.26,325.19 511.13,325.94 514.12,325.91C517.11,325.89 519.44,327.11 521.43,324.87C523.42,322.63 524.53,316.61 526.08,312.48C527.63,308.35 529.40,300.90 530.73,300.09C532.06,299.29 532.17,303.75 534.05,307.65C535.94,311.55 539.59,320.09 542.03,323.49C544.46,326.88 545.68,328.03 548.67,328.03C551.66,328.04 556.98,324.42 559.97,323.52C562.96,322.61 562.96,322.22 566.61,322.58C570.27,322.95 576.91,325.48 581.90,325.69C586.88,325.90 594.08,324.17 596.52,323.87" fill="none" stroke="#8fd6c0" stroke-width="0.6" stroke-opacity="0.85" stroke-linejoin="round"/>
<path d="M503.35,324.78C505.12,324.75 510.99,324.73 513.98,324.64C516.97,324.55 519.30,326.15 521.29,324.24C523.28,322.34 524.39,316.95 525.94,313.23C527.49,309.50 529.26,302.80 530.59,301.89C531.92,300.99 532.03,304.08 533.92,307.81C535.80,311.53 539.45,321.02 541.89,324.26C544.33,327.50 545.54,327.26 548.54,327.22C551.53,327.19 556.84,324.71 559.83,324.06C562.82,323.41 562.82,323.08 566.48,323.32C570.13,323.55 576.78,325.34 581.76,325.46C586.74,325.57 593.94,324.24 596.38,324.00" fill="none" stroke="#9ccfe6" stroke-width="0.6" stroke-opacity="0.85" stroke-linejoin="round"/>
<path d="M503.36,323.50C505.13,323.67 511.00,324.53 513.99,324.52C516.98,324.51 519.31,325.18 521.30,323.43C523.29,321.69 524.40,317.79 525.95,314.05C527.50,310.31 529.28,302.08 530.60,300.99C531.93,299.90 532.04,303.80 533.93,307.51C535.81,311.23 539.46,319.96 541.90,323.29C544.34,326.62 545.56,327.40 548.55,327.49C551.54,327.58 556.85,324.62 559.84,323.81C562.83,323.01 562.83,322.56 566.49,322.66C570.14,322.76 576.79,323.90 581.77,324.41C586.75,324.92 593.95,325.49 596.39,325.71" fill="none" stroke="#7ccb9c" stroke-width="0.6" stroke-opacity="0.85" stroke-linejoin="round"/>
<path d="M502.25,325.09C504.02,325.02 509.89,324.74 512.88,324.67C515.87,324.60 518.20,326.35 520.19,324.68C522.18,323.01 523.29,317.99 524.84,314.64C526.39,311.28 528.16,305.19 529.49,304.54C530.82,303.90 530.93,307.50 532.82,310.78C534.70,314.06 538.35,321.23 540.79,324.21C543.23,327.19 544.45,328.42 547.44,328.64C550.43,328.85 555.74,326.43 558.73,325.49C561.72,324.56 561.72,323.20 565.38,323.02C569.03,322.84 575.68,324.17 580.66,324.40C585.64,324.63 592.84,324.41 595.28,324.42" fill="none" stroke="#a6dccb" stroke-width="0.6" stroke-opacity="0.85" stroke-linejoin="round"/>
<path d="M504.15,324.85C505.92,324.83 511.79,324.96 514.78,324.76C517.77,324.56 520.10,325.54 522.09,323.62C524.09,321.71 525.19,316.92 526.74,313.27C528.29,309.62 530.07,302.62 531.40,301.72C532.72,300.82 532.84,304.29 534.72,307.89C536.60,311.49 540.26,319.85 542.69,323.34C545.13,326.83 546.35,328.56 549.34,328.81C552.33,329.06 557.64,325.74 560.63,324.84C563.62,323.94 563.62,323.27 567.28,323.43C570.93,323.58 577.58,325.41 582.56,325.79C587.55,326.17 594.74,325.72 597.18,325.71" fill="none" stroke="#8fd6c0" stroke-width="0.6" stroke-opacity="0.85" stroke-linejoin="round"/>
<path d="M504.61,324.44C506.38,324.48 512.25,324.77 515.24,324.68C518.23,324.58 520.56,325.96 522.55,323.89C524.54,321.81 525.65,316.18 527.20,312.24C528.75,308.29 530.53,301.25 531.85,300.21C533.18,299.17 533.29,302.16 535.18,306.00C537.06,309.83 540.71,319.34 543.15,323.21C545.59,327.07 546.81,328.96 549.80,329.19C552.79,329.42 558.10,325.40 561.09,324.57C564.08,323.75 564.08,323.94 567.74,324.23C571.39,324.52 578.04,326.33 583.02,326.32C588.00,326.30 595.20,324.51 597.64,324.15" fill="none" stroke="#9ccfe6" stroke-width="0.6" stroke-opacity="0.85" stroke-linejoin="round"/>
<path d="M503.64,325.00C505.41,324.90 511.28,324.67 514.27,324.38C517.26,324.10 519.58,324.81 521.58,323.30C523.57,321.78 524.68,318.39 526.23,315.28C527.78,312.17 529.55,305.57 530.88,304.66C532.21,303.74 532.32,306.45 534.20,309.79C536.09,313.13 539.74,321.78 542.18,324.69C544.61,327.61 545.83,327.21 548.82,327.28C551.81,327.35 557.13,325.66 560.12,325.11C563.11,324.57 563.11,324.00 566.76,324.00C570.42,324.00 577.06,324.91 582.05,325.11C587.03,325.30 594.23,325.15 596.67,325.16" fill="none" stroke="#7ccb9c" stroke-width="0.6" stroke-opacity="0.85" stroke-linejoin="round"/>
<path d="M503.40,324.58C505.18,324.51 511.05,324.21 514.04,324.14C517.03,324.08 519.35,325.68 521.35,324.19C523.34,322.69 524.45,318.28 526.00,315.20C527.55,312.11 529.32,306.34 530.65,305.67C531.98,305.00 532.09,308.19 533.97,311.19C535.85,314.19 539.51,320.80 541.94,323.66C544.38,326.51 545.60,328.15 548.59,328.33C551.58,328.50 556.90,325.52 559.89,324.69C562.88,323.85 562.88,323.13 566.53,323.30C570.19,323.48 576.83,325.38 581.81,325.75C586.80,326.12 594.00,325.57 596.43,325.53" fill="none" stroke="#a6dccb" stroke-width="0.6" stroke-opacity="0.85" stroke-linejoin="round"/>
<path d="M502.64,324.09C504.41,324.29 510.28,325.15 513.27,325.24C516.26,325.33 518.59,326.30 520.58,324.62C522.58,322.94 523.68,318.28 525.24,315.18C526.79,312.09 528.56,306.80 529.89,306.07C531.22,305.33 531.33,307.87 533.21,310.76C535.09,313.66 538.75,320.50 541.18,323.45C543.62,326.39 544.84,328.20 547.83,328.41C550.82,328.62 556.13,325.35 559.12,324.69C562.12,324.04 562.12,324.30 565.77,324.49C569.42,324.68 576.07,325.89 581.05,325.85C586.04,325.81 593.24,324.51 595.67,324.25" fill="none" stroke="#8fd6c0" stroke-width="0.6" stroke-opacity="0.85" stroke-linejoin="round"/>
<path d="M503.17,324.17C504.94,324.36 510.81,325.25 513.80,325.32C516.79,325.39 519.12,326.70 521.11,324.59C523.11,322.48 524.21,316.69 525.76,312.64C527.31,308.59 529.09,301.07 530.41,300.30C531.74,299.54 531.85,304.18 533.74,308.05C535.62,311.92 539.27,320.06 541.71,323.51C544.15,326.96 545.37,328.53 548.36,328.75C551.35,328.97 556.66,325.62 559.65,324.81C562.64,324.00 562.64,323.66 566.30,323.89C569.95,324.11 576.60,326.01 581.58,326.14C586.56,326.27 593.76,324.90 596.20,324.66" fill="none" stroke="#9ccfe6" stroke-width="0.6" stroke-opacity="0.85" stroke-linejoin="round"/>
<path d="M502.27,324.41C504.04,324.49 509.91,324.98 512.90,324.90C515.89,324.82 518.21,325.83 520.21,323.92C522.20,322.01 523.31,317.09 524.86,313.44C526.41,309.78 528.18,302.79 529.51,301.97C530.84,301.15 530.95,304.84 532.83,308.52C534.71,312.21 538.37,320.81 540.81,324.08C543.24,327.36 544.46,328.09 547.45,328.18C550.44,328.26 555.76,325.34 558.75,324.57C561.74,323.81 561.74,323.48 565.39,323.59C569.05,323.70 575.69,325.01 580.68,325.23C585.66,325.45 592.86,324.95 595.30,324.90" fill="none" stroke="#8cc7e0" stroke-width="1.1" stroke-opacity="0.8" stroke-linejoin="round"/>
<path d="M503.78,324.73C505.55,324.78 511.42,325.18 514.41,325.04C517.40,324.91 519.73,325.88 521.72,323.92C523.72,321.95 524.82,316.77 526.37,313.22C527.92,309.68 529.70,303.39 531.02,302.65C532.35,301.92 532.46,305.32 534.35,308.82C536.23,312.32 539.88,320.45 542.32,323.66C544.76,326.87 545.98,327.91 548.97,328.07C551.96,328.22 557.27,325.29 560.26,324.59C563.25,323.89 563.25,323.87 566.91,323.89C570.56,323.92 577.21,324.49 582.19,324.74C587.18,325.00 594.37,325.31 596.81,325.42" fill="none" stroke="#62c184" stroke-width="1.0" stroke-opacity="0.85" stroke-linejoin="round"/>
<path d="M503.54,323.89C505.31,324.11 511.18,325.13 514.17,325.25C517.16,325.36 519.49,326.44 521.48,324.58C523.47,322.71 524.58,317.61 526.13,314.07C527.68,310.52 529.45,304.07 530.78,303.30C532.11,302.52 532.22,305.87 534.10,309.41C535.99,312.95 539.64,321.40 542.08,324.54C544.51,327.69 545.73,328.27 548.72,328.28C551.71,328.29 557.03,325.29 560.02,324.59C563.01,323.89 563.01,323.98 566.66,324.09C570.32,324.21 576.96,325.10 581.95,325.28C586.93,325.47 594.13,325.22 596.57,325.20" fill="none" stroke="#62c184" stroke-width="1.0" stroke-opacity="0.85" stroke-linejoin="round"/>
<path d="M504.25,324.35C506.02,324.40 511.89,324.79 514.88,324.63C517.88,324.48 520.20,325.31 522.19,323.41C524.19,321.52 525.30,316.82 526.85,313.28C528.40,309.74 530.17,303.00 531.50,302.16C532.83,301.31 532.94,304.56 534.82,308.23C536.70,311.89 540.36,320.76 542.79,324.15C545.23,327.54 546.45,328.56 549.44,328.55C552.43,328.54 557.75,324.87 560.74,324.09C563.73,323.31 563.73,323.72 567.38,323.87C571.04,324.02 577.68,324.89 582.66,325.00C587.65,325.11 594.85,324.61 597.28,324.53" fill="none" stroke="#62c184" stroke-width="1.0" stroke-opacity="0.85" stroke-linejoin="round"/>
<path d="M503.35,324.91C505.12,325.00 510.99,325.57 513.98,325.47C516.97,325.36 519.30,326.17 521.29,324.26C523.28,322.35 524.39,317.53 525.94,313.99C527.49,310.44 529.26,303.80 530.59,303.00C531.92,302.20 532.03,305.66 533.92,309.19C535.80,312.72 539.45,321.11 541.89,324.18C544.33,327.25 545.54,327.51 548.53,327.62C551.52,327.73 556.84,325.48 559.83,324.81C562.82,324.15 562.82,323.49 566.48,323.64C570.13,323.78 576.78,325.54 581.76,325.68C586.74,325.82 593.94,324.67 596.38,324.47" fill="none" stroke="#62c184" stroke-width="1.0" stroke-opacity="0.85" stroke-linejoin="round"/>
<path d="M503.59,324.42C505.37,324.50 511.24,324.98 514.23,324.90C517.22,324.82 519.54,325.80 521.54,323.95C523.53,322.09 524.64,317.32 526.19,313.77C527.74,310.22 529.51,303.44 530.84,302.64C532.17,301.84 532.28,305.42 534.16,309.00C536.04,312.58 539.70,320.92 542.13,324.10C544.57,327.28 545.79,328.00 548.78,328.08C551.77,328.16 557.09,325.32 560.08,324.58C563.07,323.84 563.07,323.52 566.72,323.63C570.38,323.73 577.02,325.01 582.00,325.22C586.99,325.43 594.19,324.95 596.62,324.90" fill="none" stroke="#5cbf80" stroke-width="1.9" stroke-opacity="1.0" stroke-linejoin="round"/>
<rect x="608.00" y="273.50" width="124.40" height="84.70" rx="2" fill="#fff" stroke="#d2d2d2" stroke-width="0.8"/>
<rect x="607.40" y="354.70" width="125.60" height="6.90" fill="#8cbd8c" stroke="none" stroke-width="1" />
<text x="626.60" y="279.05" font-size="5.1" text-anchor="end" font-weight="normal" fill="#111" stroke="#111" stroke-width="0.128" >300</text>
<text x="626.60" y="294.95" font-size="5.1" text-anchor="end" font-weight="normal" fill="#111" stroke="#111" stroke-width="0.128" >200</text>
<text x="626.60" y="310.85" font-size="5.1" text-anchor="end" font-weight="normal" fill="#111" stroke="#111" stroke-width="0.128" >100</text>
<text x="626.60" y="326.75" font-size="5.1" text-anchor="end" font-weight="normal" fill="#111" stroke="#111" stroke-width="0.128" >0</text>
<text x="626.60" y="342.65" font-size="5.1" text-anchor="end" font-weight="normal" fill="#111" stroke="#111" stroke-width="0.128" >-100</text>
<text x="670.00" y="279.10" font-size="5.4" text-anchor="middle" font-weight="bold" fill="#222" stroke="#222" stroke-width="0.135" >Right Posterior</text>
<text x="628.50" y="347.60" font-size="5.1" text-anchor="middle" font-weight="normal" fill="#111" stroke="#111" stroke-width="0.128" >-140</text>
<text x="647.70" y="347.60" font-size="5.1" text-anchor="middle" font-weight="normal" fill="#111" stroke="#111" stroke-width="0.128" >0</text>
<text x="666.90" y="347.60" font-size="5.1" text-anchor="middle" font-weight="normal" fill="#111" stroke="#111" stroke-width="0.128" >140</text>
<text x="686.10" y="347.60" font-size="5.1" text-anchor="middle" font-weight="normal" fill="#111" stroke="#111" stroke-width="0.128" >280</text>
<text x="705.30" y="347.60" font-size="5.1" text-anchor="middle" font-weight="normal" fill="#111" stroke="#111" stroke-width="0.128" >420</text>
<text x="724.50" y="347.60" font-size="5.1" text-anchor="middle" font-weight="normal" fill="#111" stroke="#111" stroke-width="0.128" >560</text>
<text x="669.60" y="352.80" font-size="5.0" text-anchor="middle" font-weight="normal" fill="#111" stroke="#111" stroke-width="0.125" >Right Posterior (RP) ms</text>
<text x="612.70" y="313.20" font-size="5.2" text-anchor="middle" fill="#111" stroke="#111" stroke-width="0.13" transform="rotate(-90 612.70 313.20)">Head &amp; Eye Velocity</text>
<text x="612.70" y="360.50" font-size="5.1" fill="#111" stroke="#111" stroke-width="0.15">Mean Gains: 0.45<tspan dx="6">PR Score: NA</tspan></text>
<path d="M666.11,323.31C666.55,321.99 667.99,315.62 668.76,315.36C669.54,315.09 670.09,322.65 670.76,321.72C671.42,320.79 672.09,310.06 672.75,309.79C673.42,309.53 674.08,320.53 674.74,320.13C675.41,319.73 676.14,309.77 676.74,307.41C677.34,305.05 677.78,304.12 678.33,305.98C678.89,307.83 679.44,317.51 680.06,318.54C680.68,319.57 681.39,311.12 682.05,312.18C682.72,313.24 683.72,322.78 684.05,324.90" fill="none" stroke="#8dd3c3" stroke-width="0.6" stroke-opacity="0.8" stroke-linejoin="round"/>
<path d="M667.43,324.90C667.88,322.78 669.32,313.24 670.09,312.18C670.87,311.12 671.42,319.07 672.09,318.54C672.75,318.01 673.42,309.26 674.08,309.00C674.74,308.74 675.41,316.69 676.07,316.95C676.74,317.21 677.29,309.79 678.07,310.59C678.84,311.38 679.84,319.33 680.73,321.72C681.61,324.10 682.94,324.37 683.38,324.90" fill="none" stroke="#8dd3c3" stroke-width="0.6" stroke-opacity="0.8" stroke-linejoin="round"/>
<path d="M666.77,321.72C667.21,321.06 668.65,319.20 669.43,317.75C670.20,316.29 670.43,314.03 671.42,312.97C672.42,311.91 674.41,310.99 675.41,311.38C676.41,311.78 676.74,315.76 677.40,315.36C678.07,314.96 678.73,307.68 679.40,309.00C680.06,310.32 681.06,320.93 681.39,323.31" fill="none" stroke="#8dd3c3" stroke-width="0.6" stroke-opacity="0.8" stroke-linejoin="round"/>
<path d="M685.38,324.10C685.60,322.38 686.31,315.92 686.71,313.77C687.10,311.62 687.21,311.62 687.77,311.23C688.32,310.83 689.43,309.37 690.03,311.38C690.63,313.40 691.14,321.32 691.36,323.31" fill="none" stroke="#8dd3c3" stroke-width="0.6" stroke-opacity="0.8" stroke-linejoin="round"/>
<path d="M703.98,324.90C704.27,323.50 705.16,316.47 705.71,316.47C706.26,316.47 707.04,323.50 707.30,324.90" fill="none" stroke="#8dd3c3" stroke-width="0.6" stroke-opacity="0.8" stroke-linejoin="round"/>
<path d="M713.29,324.90C713.51,323.34 714.17,315.78 714.61,315.52C715.06,315.25 715.46,323.07 715.94,323.31C716.43,323.55 716.98,316.69 717.54,316.95C718.09,317.21 718.98,323.57 719.27,324.90" fill="none" stroke="#8dd3c3" stroke-width="0.6" stroke-opacity="0.8" stroke-linejoin="round"/>
<path d="M687.37,324.10C687.59,322.25 688.21,314.96 688.70,312.97C689.19,310.99 689.81,310.51 690.29,312.18C690.78,313.85 691.40,321.19 691.62,322.99" fill="none" stroke="#eda464" stroke-width="0.7" stroke-opacity="0.8" stroke-linejoin="round"/>
<path d="M629.59,323.47C632.24,323.63 642.21,325.98 645.53,324.42C648.86,322.86 648.19,317.87 649.52,314.12C650.85,310.37 651.96,302.48 653.51,301.93C655.06,301.39 657.05,307.91 658.82,310.83C660.60,313.75 661.48,316.73 664.14,319.46C666.80,322.18 670.34,326.52 674.77,327.18C679.20,327.83 685.18,323.82 690.72,323.40C696.26,322.97 702.68,324.35 708.00,324.63C713.31,324.91 720.18,324.99 722.62,325.06" fill="none" stroke="#f2b886" stroke-width="0.7" stroke-opacity="0.9" stroke-linejoin="round"/>
<path d="M627.89,324.80C630.54,324.71 640.51,326.17 643.83,324.23C647.16,322.30 646.49,317.01 647.82,313.20C649.15,309.39 650.26,301.83 651.81,301.38C653.36,300.94 655.35,307.54 657.12,310.52C658.90,313.49 659.78,316.41 662.44,319.24C665.10,322.07 668.64,326.96 673.07,327.49C677.50,328.02 683.48,322.78 689.02,322.43C694.56,322.07 700.98,324.74 706.30,325.36C711.61,325.98 718.48,326.00 720.92,326.12" fill="none" stroke="#f2b886" stroke-width="0.7" stroke-opacity="0.9" stroke-linejoin="round"/>
<path d="M629.85,323.27C632.51,323.40 642.48,325.47 645.80,324.06C649.12,322.66 648.46,318.45 649.79,314.83C651.12,311.20 652.22,303.08 653.77,302.31C655.32,301.55 657.32,307.50 659.09,310.26C660.86,313.01 661.75,316.00 664.41,318.85C667.06,321.71 670.61,326.63 675.04,327.39C679.47,328.14 685.45,323.89 690.99,323.39C696.52,322.89 702.95,324.12 708.26,324.39C713.58,324.66 720.45,324.91 722.88,325.01" fill="none" stroke="#f2b886" stroke-width="0.7" stroke-opacity="0.9" stroke-linejoin="round"/>
<path d="M628.13,324.61C630.79,324.64 640.76,326.55 644.08,324.82C647.40,323.08 646.74,318.12 648.07,314.19C649.40,310.26 650.51,301.83 652.06,301.23C653.61,300.62 655.60,307.43 657.37,310.58C659.14,313.72 660.03,317.07 662.69,320.08C665.35,323.09 668.89,328.25 673.32,328.63C677.75,329.02 683.73,322.99 689.27,322.39C694.81,321.79 701.23,324.48 706.55,325.04C711.86,325.59 718.73,325.60 721.16,325.71" fill="none" stroke="#f2b886" stroke-width="0.7" stroke-opacity="0.9" stroke-linejoin="round"/>
<path d="M628.13,324.63C630.79,324.79 640.76,327.27 644.08,325.61C647.40,323.95 646.74,318.40 648.06,314.66C649.39,310.92 650.50,303.57 652.05,303.17C653.60,302.77 655.60,309.51 657.37,312.27C659.14,315.02 660.03,317.28 662.68,319.71C665.34,322.14 668.89,326.36 673.32,326.83C677.75,327.31 683.73,323.03 689.26,322.58C694.80,322.12 701.22,323.61 706.54,324.13C711.86,324.65 718.72,325.43 721.16,325.70" fill="none" stroke="#f2b886" stroke-width="0.7" stroke-opacity="0.9" stroke-linejoin="round"/>
<path d="M629.06,323.97C631.71,324.06 641.68,326.09 645.00,324.48C648.33,322.88 647.66,317.98 648.99,314.34C650.32,310.69 651.43,303.05 652.98,302.59C654.53,302.13 656.52,308.82 658.29,311.56C660.07,314.29 660.95,316.21 663.61,319.00C666.27,321.79 669.81,327.59 674.24,328.30C678.67,329.00 684.65,323.98 690.19,323.24C695.73,322.49 702.15,323.57 707.47,323.85C712.78,324.13 719.65,324.75 722.09,324.93" fill="none" stroke="#f2b886" stroke-width="0.7" stroke-opacity="0.9" stroke-linejoin="round"/>
<path d="M628.89,324.10C631.55,324.24 641.52,326.62 644.84,324.90C648.16,323.18 647.50,317.75 648.83,313.77C650.16,309.79 651.27,301.58 652.82,301.05C654.37,300.52 656.36,307.57 658.13,310.59C659.90,313.61 660.79,316.31 663.45,319.18C666.11,322.04 669.65,327.13 674.08,327.76C678.51,328.40 684.49,323.52 690.03,322.99C695.57,322.46 701.99,324.21 707.30,324.58C712.62,324.95 719.49,325.11 721.92,325.22" fill="none" stroke="#eda464" stroke-width="1.3" stroke-opacity="1.0" stroke-linejoin="round"/>
<path d="M629.12,323.75C631.78,323.84 641.52,324.95 645.07,324.25C648.61,323.54 648.39,321.32 650.38,319.53C652.38,317.75 655.26,314.20 657.03,313.55C658.80,312.90 659.02,313.56 661.02,315.65C663.01,317.73 666.44,324.02 668.99,326.08C671.54,328.13 672.53,328.33 676.30,327.96C680.07,327.59 686.38,324.51 691.58,323.83C696.79,323.16 702.44,323.63 707.53,323.92C712.63,324.21 719.71,325.31 722.15,325.59" fill="none" stroke="#8fd6c0" stroke-width="0.6" stroke-opacity="0.85" stroke-linejoin="round"/>
<path d="M627.79,324.10C630.45,324.28 640.20,325.55 643.74,325.14C647.28,324.73 647.06,323.13 649.06,321.65C651.05,320.16 653.93,316.98 655.70,316.25C657.47,315.51 657.70,315.54 659.69,317.23C661.68,318.92 665.12,324.71 667.66,326.38C670.21,328.05 671.21,327.61 674.97,327.25C678.74,326.89 685.05,324.60 690.26,324.22C695.46,323.84 701.11,324.87 706.20,324.98C711.30,325.09 718.39,324.91 720.82,324.90" fill="none" stroke="#9ccfe6" stroke-width="0.6" stroke-opacity="0.85" stroke-linejoin="round"/>
<path d="M627.90,324.51C630.56,324.57 640.30,325.47 643.85,324.86C647.39,324.25 647.17,322.45 649.16,320.85C651.16,319.24 654.03,316.11 655.81,315.23C657.58,314.35 657.80,313.90 659.79,315.57C661.79,317.25 665.22,323.23 667.77,325.29C670.31,327.34 671.31,328.08 675.08,327.88C678.84,327.68 685.16,324.71 690.36,324.09C695.57,323.47 701.21,324.09 706.31,324.19C711.40,324.28 718.49,324.59 720.93,324.67" fill="none" stroke="#7ccb9c" stroke-width="0.6" stroke-opacity="0.85" stroke-linejoin="round"/>
<path d="M628.71,324.27C631.37,324.43 641.12,325.79 644.66,325.22C648.20,324.66 647.98,322.21 649.98,320.89C651.97,319.57 654.85,317.87 656.62,317.30C658.39,316.73 658.61,315.98 660.61,317.46C662.60,318.95 666.03,324.38 668.58,326.21C671.13,328.03 672.13,328.87 675.89,328.41C679.66,327.94 685.97,324.00 691.17,323.41C696.38,322.81 702.03,324.68 707.12,324.84C712.22,325.00 719.30,324.46 721.74,324.38" fill="none" stroke="#a6dccb" stroke-width="0.6" stroke-opacity="0.85" stroke-linejoin="round"/>
<path d="M628.45,322.63C631.10,323.15 640.85,326.25 644.39,325.76C647.94,325.27 647.72,321.56 649.71,319.68C651.70,317.80 654.58,315.16 656.36,314.47C658.13,313.78 658.35,313.51 660.34,315.54C662.34,317.57 665.77,324.57 668.32,326.65C670.86,328.73 671.86,328.67 675.63,328.01C679.39,327.36 685.70,323.46 690.91,322.71C696.11,321.95 701.76,323.15 706.86,323.48C711.95,323.81 719.04,324.48 721.48,324.69" fill="none" stroke="#8fd6c0" stroke-width="0.6" stroke-opacity="0.85" stroke-linejoin="round"/>
<path d="M627.34,323.42C630.00,323.71 639.74,325.37 643.29,325.13C646.83,324.90 646.61,323.36 648.60,322.00C650.60,320.63 653.47,317.69 655.25,316.96C657.02,316.24 657.24,316.20 659.23,317.65C661.23,319.09 664.66,323.78 667.21,325.62C669.75,327.45 670.75,329.09 674.52,328.66C678.28,328.23 684.60,323.71 689.80,323.04C695.01,322.38 700.65,324.28 705.75,324.65C710.84,325.03 717.93,325.19 720.37,325.30" fill="none" stroke="#9ccfe6" stroke-width="0.6" stroke-opacity="0.85" stroke-linejoin="round"/>
<path d="M629.62,322.36C632.27,322.70 642.02,324.72 645.56,324.38C649.11,324.04 648.89,322.07 650.88,320.31C652.87,318.55 655.75,314.48 657.52,313.82C659.30,313.15 659.52,314.47 661.51,316.32C663.50,318.16 666.94,322.82 669.49,324.88C672.03,326.94 673.03,328.82 676.79,328.68C680.56,328.54 686.87,324.74 692.08,324.04C697.28,323.33 702.93,324.07 708.03,324.46C713.12,324.84 720.21,326.02 722.65,326.34" fill="none" stroke="#7ccb9c" stroke-width="0.6" stroke-opacity="0.85" stroke-linejoin="round"/>
<path d="M629.50,324.26C632.15,324.42 641.90,325.75 645.44,325.26C648.99,324.78 648.77,323.26 650.76,321.35C652.75,319.44 655.63,314.72 657.40,313.82C659.18,312.92 659.40,314.00 661.39,315.97C663.39,317.93 666.82,323.55 669.37,325.59C671.91,327.64 672.91,328.64 676.68,328.22C680.44,327.80 686.75,323.58 691.96,323.05C697.16,322.52 702.81,324.55 707.91,325.05C713.00,325.55 720.09,325.89 722.53,326.06" fill="none" stroke="#a6dccb" stroke-width="0.6" stroke-opacity="0.85" stroke-linejoin="round"/>
<path d="M629.41,323.93C632.07,324.11 641.81,325.28 645.36,325.00C648.90,324.72 648.68,323.74 650.67,322.24C652.67,320.74 655.55,316.73 657.32,316.00C659.09,315.28 659.31,316.22 661.31,317.90C663.30,319.57 666.73,324.43 669.28,326.07C671.83,327.71 672.82,328.23 676.59,327.74C680.35,327.25 686.67,323.76 691.87,323.13C697.08,322.50 702.73,323.66 707.82,323.96C712.91,324.27 720.00,324.80 722.44,324.97" fill="none" stroke="#8fd6c0" stroke-width="0.6" stroke-opacity="0.85" stroke-linejoin="round"/>
<path d="M628.59,323.74C631.25,323.87 641.00,325.22 644.54,324.54C648.09,323.85 647.86,321.20 649.86,319.63C651.85,318.05 654.73,315.79 656.50,315.08C658.27,314.38 658.50,313.47 660.49,315.39C662.48,317.32 665.92,324.48 668.46,326.62C671.01,328.77 672.01,328.81 675.77,328.25C679.54,327.69 685.85,323.77 691.06,323.25C696.26,322.74 701.91,324.93 707.00,325.16C712.10,325.39 719.19,324.73 721.62,324.64" fill="none" stroke="#9ccfe6" stroke-width="0.6" stroke-opacity="0.85" stroke-linejoin="round"/>
<path d="M628.89,323.59C631.55,323.81 641.30,325.36 644.84,324.90C648.39,324.44 648.16,322.44 650.16,320.81C652.15,319.17 655.03,315.76 656.80,315.07C658.58,314.39 658.80,314.94 660.79,316.71C662.78,318.49 666.22,323.75 668.76,325.72C671.31,327.68 672.31,328.91 676.07,328.50C679.84,328.09 686.15,323.92 691.36,323.26C696.56,322.61 702.21,324.24 707.30,324.57C712.40,324.90 719.49,325.12 721.92,325.23" fill="none" stroke="#8cc7e0" stroke-width="1.1" stroke-opacity="0.8" stroke-linejoin="round"/>
<path d="M628.80,323.52C631.46,323.76 641.20,325.28 644.75,324.95C648.29,324.63 648.07,323.03 650.06,321.55C652.06,320.07 654.94,316.86 656.71,316.08C658.48,315.30 658.70,315.21 660.70,316.90C662.69,318.58 666.12,324.38 668.67,326.21C671.22,328.05 672.21,328.27 675.98,327.88C679.75,327.49 686.06,324.40 691.26,323.87C696.47,323.33 702.12,324.46 707.21,324.70C712.31,324.94 719.39,325.21 721.83,325.31" fill="none" stroke="#62c184" stroke-width="1.0" stroke-opacity="0.85" stroke-linejoin="round"/>
<path d="M628.65,323.98C631.30,324.17 641.05,325.55 644.59,325.09C648.14,324.62 647.92,322.73 649.91,321.20C651.90,319.68 654.78,316.55 656.56,315.93C658.33,315.30 658.55,315.89 660.54,317.47C662.54,319.06 665.97,323.69 668.52,325.41C671.06,327.13 672.06,328.21 675.83,327.78C679.59,327.34 685.90,323.26 691.11,322.82C696.31,322.38 701.96,324.81 707.06,325.14C712.15,325.46 719.24,324.83 721.68,324.77" fill="none" stroke="#62c184" stroke-width="1.0" stroke-opacity="0.85" stroke-linejoin="round"/>
<path d="M629.29,323.54C631.95,323.80 641.69,325.50 645.24,325.07C648.78,324.65 648.56,322.69 650.55,321.01C652.55,319.32 655.43,315.70 657.20,314.97C658.97,314.23 659.19,314.90 661.19,316.59C663.18,318.28 666.61,323.13 669.16,325.10C671.71,327.06 672.70,328.63 676.47,328.39C680.24,328.16 686.55,324.23 691.75,323.70C696.96,323.16 702.61,324.87 707.70,325.20C712.80,325.54 719.88,325.60 722.32,325.68" fill="none" stroke="#62c184" stroke-width="1.0" stroke-opacity="0.85" stroke-linejoin="round"/>
<path d="M628.97,323.88C631.62,323.98 641.37,324.96 644.91,324.46C648.46,323.96 648.24,322.44 650.23,320.90C652.22,319.35 655.10,315.96 656.88,315.20C658.65,314.44 658.87,314.58 660.86,316.35C662.86,318.12 666.29,323.87 668.84,325.83C671.38,327.79 672.38,328.46 676.15,328.11C679.91,327.76 686.22,324.40 691.43,323.72C696.63,323.04 702.28,323.73 707.38,324.05C712.47,324.37 719.56,325.38 722.00,325.64" fill="none" stroke="#62c184" stroke-width="1.0" stroke-opacity="0.85" stroke-linejoin="round"/>
<path d="M628.89,323.63C631.55,323.84 641.30,325.35 644.84,324.90C648.39,324.45 648.16,322.51 650.16,320.92C652.15,319.33 655.03,316.02 656.80,315.36C658.58,314.70 658.80,315.23 660.79,316.95C662.78,318.67 666.22,323.79 668.76,325.69C671.31,327.60 672.31,328.80 676.07,328.40C679.84,328.00 686.15,323.95 691.36,323.31C696.56,322.67 702.21,324.26 707.30,324.58C712.40,324.90 719.49,325.11 721.92,325.22" fill="none" stroke="#5cbf80" stroke-width="1.9" stroke-opacity="1.0" stroke-linejoin="round"/>
<rect x="545.00" y="183.50" width="125.4" height="88.8" fill="none" stroke="none"/>
<path d="M607.40,191.60L573.88,210.95L573.88,249.65L607.40,269.00L640.92,249.65L640.92,210.95Z" fill="none" stroke="#111" stroke-width="0.85"/>
<path d="M607.40,210.10L589.91,220.20L589.91,240.40L607.40,250.50L624.89,240.40L624.89,220.20Z" fill="none" stroke="#111" stroke-width="0.85"/>
<line x1="607.40" y1="230.30" x2="592.99" y2="205.34" stroke="#1f7a34" stroke-width="2.6" />
<line x1="607.40" y1="230.30" x2="578.24" y2="230.30" stroke="#1f7a34" stroke-width="2.6" />
<line x1="607.40" y1="230.30" x2="590.64" y2="259.32" stroke="#1f7a34" stroke-width="2.6" />
<line x1="607.40" y1="230.30" x2="616.11" y2="215.21" stroke="#e65428" stroke-width="2.6" />
<line x1="607.40" y1="230.30" x2="619.80" y2="230.30" stroke="#e65428" stroke-width="2.6" />
<line x1="607.40" y1="230.30" x2="614.94" y2="243.36" stroke="#e65428" stroke-width="2.6" />
<circle cx="607.4" cy="230.3" r="2.0" fill="#fff" stroke="#444" stroke-width="0.5"/>
<text x="607.40" y="188.60" font-size="4.2" text-anchor="middle" font-weight="normal" fill="#111" stroke="#111" stroke-width="0.105" >Mean Gains</text>
<text x="616.20" y="193.60" font-size="3.4" text-anchor="middle" font-weight="normal" fill="#333" stroke="#333" stroke-width="0.085" >1.0</text>
<text x="612.50" y="209.80" font-size="3.4" text-anchor="middle" font-weight="normal" fill="#333" stroke="#333" stroke-width="0.085" >0.5</text>
<text x="581.9" y="201.1" font-size="3.4" text-anchor="middle" fill="#333" transform="rotate(0 581.9 201.1)">LA</text>
<text x="631.2" y="201.1" font-size="3.4" text-anchor="middle" fill="#333" transform="rotate(0 631.2 201.1)">RA</text>
<text x="570.5" y="224.4" font-size="3.4" text-anchor="middle" fill="#333" transform="rotate(-90 570.5 224.4)">L</text>
<text x="644.0" y="224.6" font-size="3.4" text-anchor="middle" fill="#333" transform="rotate(90 644.0 224.6)">RL</text>
<text x="581.9" y="261.2" font-size="3.4" text-anchor="middle" fill="#333" transform="rotate(0 581.9 261.2)">LP</text>
<text x="630.8" y="261.2" font-size="3.4" text-anchor="middle" fill="#333" transform="rotate(0 630.8 261.2)">RP</text>
</svg></body></html>
